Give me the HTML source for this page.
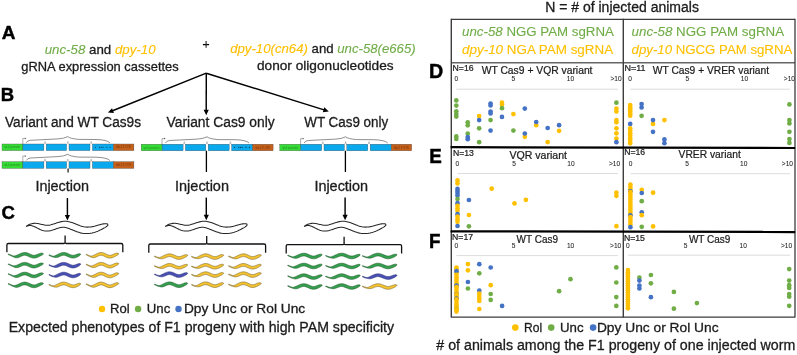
<!DOCTYPE html>
<html><head><meta charset="utf-8"><style>
html,body{margin:0;padding:0;background:#fff;}
svg{display:block;will-change:transform;filter:blur(0.3px);}
text{font-family:"Liberation Sans", sans-serif;}
</style></head><body>
<svg width="797" height="355" viewBox="0 0 797 355">
<rect x="0" y="0" width="797" height="355" fill="#fff"/>
<text transform="translate(1.75,38.68) scale(0.1902,0.1927)" font-size="100" font-weight="bold" fill="#000" stroke="#000" stroke-width="2.298" stroke-linejoin="round">A</text>
<text x="44.7" y="53.6" font-size="13.2" font-weight="normal" fill="#1c1c1c" stroke="#1c1c1c" stroke-width="0.3" text-anchor="start" textLength="110.9" lengthAdjust="spacingAndGlyphs"><tspan fill="#70ad47" stroke="#70ad47" stroke-width="0.1" font-style="italic">unc-58</tspan><tspan> and </tspan><tspan fill="#ffc000" stroke="#ffc000" stroke-width="0.1" font-style="italic">dpy-10</tspan></text>
<text x="21.3" y="70.7" font-size="13" font-weight="normal" fill="#1c1c1c" stroke="#1c1c1c" stroke-width="0.3" text-anchor="start" textLength="157.4" lengthAdjust="spacingAndGlyphs"><tspan>gRNA expression cassettes</tspan></text>
<line x1="202.90" y1="44.60" x2="209.10" y2="44.60" stroke="#000" stroke-width="1.3"/>
<line x1="206.10" y1="40.90" x2="206.10" y2="47.80" stroke="#333" stroke-width="1.2"/>
<text x="230.2" y="52.9" font-size="13.2" font-weight="normal" fill="#1c1c1c" stroke="#1c1c1c" stroke-width="0.3" text-anchor="start" textLength="185.5" lengthAdjust="spacingAndGlyphs"><tspan fill="#ffc000" stroke="#ffc000" stroke-width="0.1" font-style="italic">dpy-10(cn64)</tspan><tspan> and </tspan><tspan fill="#70ad47" stroke="#70ad47" stroke-width="0.1" font-style="italic">unc-58(e665)</tspan></text>
<text x="257.0" y="70.3" font-size="13" font-weight="normal" fill="#1c1c1c" stroke="#1c1c1c" stroke-width="0.3" text-anchor="start" textLength="136.6" lengthAdjust="spacingAndGlyphs"><tspan>donor oligonucleotides</tspan></text>
<line x1="206.30" y1="73.20" x2="112.54" y2="110.74" stroke="#000" stroke-width="1.45"/>
<polygon points="107.90,112.60 112.04,108.14 113.97,112.97" fill="#000"/>
<line x1="206.30" y1="73.20" x2="206.21" y2="110.20" stroke="#000" stroke-width="1.45"/>
<polygon points="206.20,115.20 203.61,109.69 208.81,109.71" fill="#000"/>
<line x1="206.30" y1="73.20" x2="324.03" y2="109.91" stroke="#000" stroke-width="1.45"/>
<polygon points="328.80,111.40 322.78,112.24 324.32,107.28" fill="#000"/>
<text transform="translate(0.78,100.58) scale(0.1846,0.1826)" font-size="100" font-weight="bold" fill="#000" stroke="#000" stroke-width="2.397" stroke-linejoin="round">B</text>
<text x="5.0" y="126.9" font-size="14" font-weight="normal" fill="#1c1c1c" stroke="#1c1c1c" stroke-width="0.3" text-anchor="start" textLength="136.0" lengthAdjust="spacingAndGlyphs"><tspan>Variant and WT Cas9s</tspan></text>
<text x="166.6" y="127.0" font-size="14" font-weight="normal" fill="#1c1c1c" stroke="#1c1c1c" stroke-width="0.3" text-anchor="start" textLength="108.1" lengthAdjust="spacingAndGlyphs"><tspan>Variant Cas9 only</tspan></text>
<text x="304.3" y="127.0" font-size="14" font-weight="normal" fill="#1c1c1c" stroke="#1c1c1c" stroke-width="0.3" text-anchor="start" textLength="83.9" lengthAdjust="spacingAndGlyphs"><tspan>WT Cas9 only</tspan></text>
<rect x="2.00" y="144.00" width="20.90" height="6.60" fill="#35dc35" stroke="#4a4a4a" stroke-width="0.35"/>
<rect x="22.90" y="144.00" width="21.00" height="6.60" fill="#0aa8ec" stroke="#4a4a4a" stroke-width="0.35"/>
<rect x="46.20" y="144.00" width="20.40" height="6.60" fill="#0aa8ec" stroke="#4a4a4a" stroke-width="0.35"/>
<rect x="69.00" y="144.00" width="21.00" height="6.60" fill="#0aa8ec" stroke="#4a4a4a" stroke-width="0.35"/>
<rect x="92.40" y="144.00" width="21.10" height="6.60" fill="#0aa8ec" stroke="#4a4a4a" stroke-width="0.35"/>
<rect x="113.50" y="144.00" width="20.40" height="6.60" fill="#c5601a" stroke="#4a4a4a" stroke-width="0.35"/>
<text x="4.3" y="148.4" font-size="3.2" fill="#174a17" opacity="0.6" textLength="16" lengthAdjust="spacingAndGlyphs">rpl-4 promoter</text>
<text x="116.3" y="148.4" font-size="3.2" fill="#3a1606" opacity="0.6" textLength="14.5" lengthAdjust="spacingAndGlyphs">tbb-2 3' UTR</text>
<circle cx="95.40" cy="147.20" r="0.55" fill="#10304a"/>
<circle cx="99.50" cy="147.20" r="0.55" fill="#10304a"/>
<circle cx="101.20" cy="147.20" r="0.55" fill="#10304a"/>
<circle cx="103.00" cy="147.20" r="0.55" fill="#10304a"/>
<circle cx="106.80" cy="147.20" r="0.55" fill="#10304a"/>
<circle cx="110.20" cy="147.20" r="0.55" fill="#10304a"/>
<path d="M44.45,143.80 L45.05,141.40 L45.65,143.80" fill="none" stroke="#888" stroke-width="0.5"/>
<path d="M67.20,143.80 L67.80,141.40 L68.40,143.80" fill="none" stroke="#888" stroke-width="0.5"/>
<path d="M90.60,143.80 L91.20,141.40 L91.80,143.80" fill="none" stroke="#888" stroke-width="0.5"/>
<path d="M22.8,144.0 L22.8,138.4 L24.8,138.4" fill="none" stroke="#777" stroke-width="0.6"/>
<polygon points="26.4,138.4 24.8,137.5 24.8,139.3" fill="#555"/>
<path d="M26.2,142.8 Q27.5,140.5 30.4,140.3 L58.0,138.9 Q64.0,138.6 67.8,136.6 Q70.0,138.6 78.8,139.4 L96.0,139.5 Q107.0,139.8 109.9,142.8" fill="none" stroke="#6a6a6a" stroke-width="0.75"/>
<rect x="2.00" y="161.70" width="20.90" height="6.70" fill="#35dc35" stroke="#4a4a4a" stroke-width="0.35"/>
<rect x="22.90" y="161.70" width="21.00" height="6.70" fill="#0aa8ec" stroke="#4a4a4a" stroke-width="0.35"/>
<rect x="46.20" y="161.70" width="20.40" height="6.70" fill="#0aa8ec" stroke="#4a4a4a" stroke-width="0.35"/>
<rect x="69.00" y="161.70" width="21.00" height="6.70" fill="#0aa8ec" stroke="#4a4a4a" stroke-width="0.35"/>
<rect x="92.40" y="161.70" width="21.10" height="6.70" fill="#0aa8ec" stroke="#4a4a4a" stroke-width="0.35"/>
<rect x="113.50" y="161.70" width="20.40" height="6.70" fill="#c5601a" stroke="#4a4a4a" stroke-width="0.35"/>
<text x="4.3" y="166.1" font-size="3.2" fill="#174a17" opacity="0.6" textLength="16" lengthAdjust="spacingAndGlyphs">rpl-4 promoter</text>
<text x="116.3" y="166.1" font-size="3.2" fill="#3a1606" opacity="0.6" textLength="14.5" lengthAdjust="spacingAndGlyphs">tbb-2 3' UTR</text>
<path d="M44.45,161.50 L45.05,159.10 L45.65,161.50" fill="none" stroke="#888" stroke-width="0.5"/>
<path d="M67.20,161.50 L67.80,159.10 L68.40,161.50" fill="none" stroke="#888" stroke-width="0.5"/>
<path d="M90.60,161.50 L91.20,159.10 L91.80,161.50" fill="none" stroke="#888" stroke-width="0.5"/>
<path d="M22.8,161.7 L22.8,156.1 L24.8,156.1" fill="none" stroke="#777" stroke-width="0.6"/>
<polygon points="26.4,156.1 24.8,155.2 24.8,157.0" fill="#555"/>
<path d="M26.2,160.5 Q27.5,158.2 30.4,158.0 L58.0,156.6 Q64.0,156.3 67.8,154.3 Q70.0,156.3 78.8,157.1 L96.0,157.2 Q107.0,157.5 109.9,160.5" fill="none" stroke="#6a6a6a" stroke-width="0.75"/>
<rect x="141.20" y="144.20" width="20.90" height="6.60" fill="#35dc35" stroke="#4a4a4a" stroke-width="0.35"/>
<rect x="162.10" y="144.20" width="21.00" height="6.60" fill="#0aa8ec" stroke="#4a4a4a" stroke-width="0.35"/>
<rect x="185.40" y="144.20" width="20.40" height="6.60" fill="#0aa8ec" stroke="#4a4a4a" stroke-width="0.35"/>
<rect x="208.20" y="144.20" width="21.00" height="6.60" fill="#0aa8ec" stroke="#4a4a4a" stroke-width="0.35"/>
<rect x="231.60" y="144.20" width="21.10" height="6.60" fill="#0aa8ec" stroke="#4a4a4a" stroke-width="0.35"/>
<rect x="252.70" y="144.20" width="20.40" height="6.60" fill="#c5601a" stroke="#4a4a4a" stroke-width="0.35"/>
<text x="143.5" y="148.6" font-size="3.2" fill="#174a17" opacity="0.6" textLength="16" lengthAdjust="spacingAndGlyphs">rpl-4 promoter</text>
<text x="255.5" y="148.6" font-size="3.2" fill="#3a1606" opacity="0.6" textLength="14.5" lengthAdjust="spacingAndGlyphs">tbb-2 3' UTR</text>
<circle cx="234.60" cy="147.40" r="0.55" fill="#10304a"/>
<circle cx="238.70" cy="147.40" r="0.55" fill="#10304a"/>
<circle cx="240.40" cy="147.40" r="0.55" fill="#10304a"/>
<circle cx="242.20" cy="147.40" r="0.55" fill="#10304a"/>
<circle cx="246.00" cy="147.40" r="0.55" fill="#10304a"/>
<circle cx="249.40" cy="147.40" r="0.55" fill="#10304a"/>
<path d="M183.65,144.00 L184.25,141.60 L184.85,144.00" fill="none" stroke="#888" stroke-width="0.5"/>
<path d="M206.40,144.00 L207.00,141.60 L207.60,144.00" fill="none" stroke="#888" stroke-width="0.5"/>
<path d="M229.80,144.00 L230.40,141.60 L231.00,144.00" fill="none" stroke="#888" stroke-width="0.5"/>
<path d="M162.0,144.2 L162.0,138.6 L164.0,138.6" fill="none" stroke="#777" stroke-width="0.6"/>
<polygon points="165.6,138.6 164.0,137.7 164.0,139.5" fill="#555"/>
<path d="M165.4,143.0 Q166.7,140.7 169.6,140.5 L197.2,139.1 Q203.2,138.8 207.0,136.8 Q209.2,138.8 218.0,139.6 L235.2,139.7 Q246.2,140.0 249.1,143.0" fill="none" stroke="#6a6a6a" stroke-width="0.75"/>
<rect x="279.80" y="144.20" width="20.90" height="6.60" fill="#35dc35" stroke="#4a4a4a" stroke-width="0.35"/>
<rect x="300.70" y="144.20" width="21.00" height="6.60" fill="#0aa8ec" stroke="#4a4a4a" stroke-width="0.35"/>
<rect x="324.00" y="144.20" width="20.40" height="6.60" fill="#0aa8ec" stroke="#4a4a4a" stroke-width="0.35"/>
<rect x="346.80" y="144.20" width="21.00" height="6.60" fill="#0aa8ec" stroke="#4a4a4a" stroke-width="0.35"/>
<rect x="370.20" y="144.20" width="21.10" height="6.60" fill="#0aa8ec" stroke="#4a4a4a" stroke-width="0.35"/>
<rect x="391.30" y="144.20" width="20.40" height="6.60" fill="#c5601a" stroke="#4a4a4a" stroke-width="0.35"/>
<text x="282.1" y="148.6" font-size="3.2" fill="#174a17" opacity="0.6" textLength="16" lengthAdjust="spacingAndGlyphs">rpl-4 promoter</text>
<text x="394.1" y="148.6" font-size="3.2" fill="#3a1606" opacity="0.6" textLength="14.5" lengthAdjust="spacingAndGlyphs">tbb-2 3' UTR</text>
<path d="M322.25,144.00 L322.85,141.60 L323.45,144.00" fill="none" stroke="#888" stroke-width="0.5"/>
<path d="M345.00,144.00 L345.60,141.60 L346.20,144.00" fill="none" stroke="#888" stroke-width="0.5"/>
<path d="M368.40,144.00 L369.00,141.60 L369.60,144.00" fill="none" stroke="#888" stroke-width="0.5"/>
<path d="M300.6,144.2 L300.6,138.6 L302.6,138.6" fill="none" stroke="#777" stroke-width="0.6"/>
<polygon points="304.2,138.6 302.6,137.7 302.6,139.5" fill="#555"/>
<path d="M304.0,143.0 Q305.3,140.7 308.2,140.5 L335.8,139.1 Q341.8,138.8 345.6,136.8 Q347.8,138.8 356.6,139.6 L373.8,139.7 Q384.8,140.0 387.7,143.0" fill="none" stroke="#6a6a6a" stroke-width="0.75"/>
<line x1="68.10" y1="168.60" x2="68.10" y2="172.60" stroke="#222" stroke-width="1.3"/>
<line x1="206.40" y1="150.70" x2="206.40" y2="172.00" stroke="#000" stroke-width="1.3"/>
<line x1="345.40" y1="150.70" x2="345.40" y2="172.00" stroke="#000" stroke-width="1.3"/>
<text x="35.4" y="190.8" font-size="14.2" font-weight="normal" fill="#1c1c1c" stroke="#1c1c1c" stroke-width="0.3" text-anchor="start" textLength="53.6" lengthAdjust="spacingAndGlyphs"><tspan>Injection</tspan></text>
<text x="175.0" y="190.8" font-size="14.2" font-weight="normal" fill="#1c1c1c" stroke="#1c1c1c" stroke-width="0.3" text-anchor="start" textLength="54.0" lengthAdjust="spacingAndGlyphs"><tspan>Injection</tspan></text>
<text x="314.4" y="190.8" font-size="14.2" font-weight="normal" fill="#1c1c1c" stroke="#1c1c1c" stroke-width="0.3" text-anchor="start" textLength="53.7" lengthAdjust="spacingAndGlyphs"><tspan>Injection</tspan></text>
<line x1="67.40" y1="198.00" x2="67.40" y2="215.60" stroke="#000" stroke-width="1.45"/>
<polygon points="67.40,220.60 64.80,215.10 70.00,215.10" fill="#000"/>
<line x1="206.30" y1="197.60" x2="206.30" y2="215.20" stroke="#000" stroke-width="1.45"/>
<polygon points="206.30,220.20 203.70,214.70 208.90,214.70" fill="#000"/>
<line x1="345.10" y1="197.60" x2="345.10" y2="215.20" stroke="#000" stroke-width="1.45"/>
<polygon points="345.10,220.20 342.50,214.70 347.70,214.70" fill="#000"/>
<text transform="translate(1.46,218.79) scale(0.1860,0.1929)" font-size="100" font-weight="bold" fill="#000" stroke="#000" stroke-width="2.322" stroke-linejoin="round">C</text>
<path d="M26.37,226.26 L27.22,225.62 L28.09,225.07 L28.98,224.61 L29.90,224.24 L30.85,223.94 L31.82,223.69 L32.81,223.51 L33.82,223.39 L34.85,223.34 L35.88,223.35 L36.90,223.43 L37.91,223.58 L38.90,223.77 L39.87,223.97 L40.82,224.18 L41.75,224.39 L42.63,224.59 L43.49,224.77 L44.29,224.95 L45.06,225.11 L45.78,225.23 L46.47,225.31 L47.15,225.34 L47.85,225.32 L48.59,225.25 L49.35,225.14 L50.15,224.98 L50.96,224.79 L51.81,224.55 L52.67,224.29 L53.56,224.01 L54.46,223.71 L55.38,223.40 L56.31,223.08 L57.26,222.76 L58.22,222.45 L59.20,222.15 L60.20,221.88 L61.22,221.64 L62.27,221.45 L63.35,221.31 L64.46,221.25 L65.57,221.26 L66.66,221.34 L67.74,221.50 L68.79,221.70 L69.82,221.95 L70.84,222.23 L71.83,222.53 L72.81,222.86 L73.76,223.20 L74.70,223.56 L75.61,223.92 L76.51,224.29 L77.39,224.64 L78.26,224.99 L79.12,225.32 L79.96,225.63 L80.79,225.91 L81.61,226.17 L82.41,226.40 L83.20,226.61 L83.96,226.77 L84.72,226.91 L85.46,227.01 L86.22,227.08 L86.98,227.11 L87.76,227.12 L88.55,227.10 L89.35,227.05 L90.17,226.98 L90.99,226.88 L91.81,226.76 L92.64,226.63 L93.48,226.47 L94.32,226.28 L95.16,226.08 L96.03,225.85 L96.91,225.60 L97.81,225.34 L98.72,225.08 L99.65,224.81 L100.59,224.55 L101.55,224.29 L102.52,224.06 L103.51,223.87 L104.51,223.73 L105.54,223.69 L106.61,223.84 L107.68,224.12 L107.92,225.08 L107.18,225.85 L106.44,226.54 L105.66,227.10 L104.86,227.60 L104.04,228.08 L103.20,228.54 L102.35,229.00 L101.48,229.45 L100.60,229.89 L99.70,230.32 L98.79,230.74 L97.87,231.14 L96.92,231.52 L95.96,231.87 L94.99,232.20 L94.02,232.49 L93.03,232.74 L92.05,232.97 L91.06,233.16 L90.07,233.33 L89.06,233.45 L88.04,233.54 L87.01,233.59 L85.97,233.60 L84.92,233.56 L83.85,233.46 L82.80,233.31 L81.76,233.12 L80.73,232.89 L79.72,232.62 L78.73,232.32 L77.75,232.00 L76.79,231.67 L75.84,231.32 L74.90,230.96 L73.97,230.59 L73.06,230.23 L72.16,229.86 L71.29,229.49 L70.44,229.14 L69.60,228.80 L68.79,228.48 L67.99,228.20 L67.22,227.95 L66.46,227.75 L65.73,227.58 L65.01,227.44 L64.32,227.35 L63.61,227.31 L62.88,227.30 L62.12,227.35 L61.34,227.44 L60.53,227.57 L59.70,227.75 L58.85,227.97 L57.99,228.22 L57.12,228.51 L56.23,228.82 L55.32,229.14 L54.39,229.47 L53.45,229.80 L52.48,230.11 L51.49,230.40 L50.48,230.65 L49.43,230.86 L48.36,231.01 L47.25,231.08 L46.12,231.08 L45.00,230.97 L43.92,230.79 L42.87,230.54 L41.87,230.22 L40.92,229.84 L40.00,229.43 L39.11,228.99 L38.25,228.56 L37.41,228.13 L36.60,227.73 L35.80,227.34 L35.01,226.94 L34.23,226.56 L33.45,226.22 L32.65,225.92 L31.84,225.68 L31.00,225.53 L30.13,225.48 L29.24,225.53 L28.33,225.68 L27.39,225.95 L26.43,226.34 Z" fill="#fff" stroke="#262626" stroke-width="1.05" stroke-linejoin="round"/>
<path d="M165.57,226.26 L166.42,225.62 L167.29,225.07 L168.18,224.61 L169.10,224.24 L170.05,223.94 L171.02,223.69 L172.01,223.51 L173.02,223.39 L174.05,223.34 L175.08,223.35 L176.10,223.43 L177.11,223.58 L178.10,223.77 L179.07,223.97 L180.02,224.18 L180.95,224.39 L181.83,224.59 L182.69,224.77 L183.49,224.95 L184.26,225.11 L184.98,225.23 L185.67,225.31 L186.35,225.34 L187.05,225.32 L187.79,225.25 L188.55,225.14 L189.35,224.98 L190.16,224.79 L191.01,224.55 L191.87,224.29 L192.76,224.01 L193.66,223.71 L194.58,223.40 L195.51,223.08 L196.46,222.76 L197.42,222.45 L198.40,222.15 L199.40,221.88 L200.42,221.64 L201.47,221.45 L202.55,221.31 L203.66,221.25 L204.77,221.26 L205.86,221.34 L206.94,221.50 L207.99,221.70 L209.02,221.95 L210.04,222.23 L211.03,222.53 L212.01,222.86 L212.96,223.20 L213.90,223.56 L214.81,223.92 L215.71,224.29 L216.59,224.64 L217.46,224.99 L218.32,225.32 L219.16,225.63 L219.99,225.91 L220.81,226.17 L221.61,226.40 L222.40,226.61 L223.16,226.77 L223.92,226.91 L224.66,227.01 L225.42,227.08 L226.18,227.11 L226.96,227.12 L227.75,227.10 L228.55,227.05 L229.37,226.98 L230.19,226.88 L231.01,226.76 L231.84,226.63 L232.68,226.47 L233.52,226.28 L234.36,226.08 L235.23,225.85 L236.11,225.60 L237.01,225.34 L237.92,225.08 L238.85,224.81 L239.79,224.55 L240.75,224.29 L241.72,224.06 L242.71,223.87 L243.71,223.73 L244.74,223.69 L245.81,223.84 L246.88,224.12 L247.12,225.08 L246.38,225.85 L245.64,226.54 L244.86,227.10 L244.06,227.60 L243.24,228.08 L242.40,228.54 L241.55,229.00 L240.68,229.45 L239.80,229.89 L238.90,230.32 L237.99,230.74 L237.07,231.14 L236.12,231.52 L235.16,231.87 L234.19,232.20 L233.22,232.49 L232.23,232.74 L231.25,232.97 L230.26,233.16 L229.27,233.33 L228.26,233.45 L227.24,233.54 L226.21,233.59 L225.17,233.60 L224.12,233.56 L223.05,233.46 L222.00,233.31 L220.96,233.12 L219.93,232.89 L218.92,232.62 L217.93,232.32 L216.95,232.00 L215.99,231.67 L215.04,231.32 L214.10,230.96 L213.17,230.59 L212.26,230.23 L211.36,229.86 L210.49,229.49 L209.64,229.14 L208.80,228.80 L207.99,228.48 L207.19,228.20 L206.42,227.95 L205.66,227.75 L204.93,227.58 L204.21,227.44 L203.52,227.35 L202.81,227.31 L202.08,227.30 L201.32,227.35 L200.54,227.44 L199.73,227.57 L198.90,227.75 L198.05,227.97 L197.19,228.22 L196.32,228.51 L195.43,228.82 L194.52,229.14 L193.59,229.47 L192.65,229.80 L191.68,230.11 L190.69,230.40 L189.68,230.65 L188.63,230.86 L187.56,231.01 L186.45,231.08 L185.32,231.08 L184.20,230.97 L183.12,230.79 L182.07,230.54 L181.07,230.22 L180.12,229.84 L179.20,229.43 L178.31,228.99 L177.45,228.56 L176.61,228.13 L175.80,227.73 L175.00,227.34 L174.21,226.94 L173.43,226.56 L172.65,226.22 L171.85,225.92 L171.04,225.68 L170.20,225.53 L169.33,225.48 L168.44,225.53 L167.53,225.68 L166.59,225.95 L165.63,226.34 Z" fill="#fff" stroke="#262626" stroke-width="1.05" stroke-linejoin="round"/>
<path d="M304.37,226.26 L305.22,225.62 L306.09,225.07 L306.98,224.61 L307.90,224.24 L308.85,223.94 L309.82,223.69 L310.81,223.51 L311.82,223.39 L312.85,223.34 L313.88,223.35 L314.90,223.43 L315.91,223.58 L316.90,223.77 L317.87,223.97 L318.82,224.18 L319.75,224.39 L320.63,224.59 L321.49,224.77 L322.29,224.95 L323.06,225.11 L323.78,225.23 L324.47,225.31 L325.15,225.34 L325.85,225.32 L326.59,225.25 L327.35,225.14 L328.15,224.98 L328.96,224.79 L329.81,224.55 L330.67,224.29 L331.56,224.01 L332.46,223.71 L333.38,223.40 L334.31,223.08 L335.26,222.76 L336.22,222.45 L337.20,222.15 L338.20,221.88 L339.22,221.64 L340.27,221.45 L341.35,221.31 L342.46,221.25 L343.57,221.26 L344.66,221.34 L345.74,221.50 L346.79,221.70 L347.82,221.95 L348.84,222.23 L349.83,222.53 L350.81,222.86 L351.76,223.20 L352.70,223.56 L353.61,223.92 L354.51,224.29 L355.39,224.64 L356.26,224.99 L357.12,225.32 L357.96,225.63 L358.79,225.91 L359.61,226.17 L360.41,226.40 L361.20,226.61 L361.96,226.77 L362.72,226.91 L363.46,227.01 L364.22,227.08 L364.98,227.11 L365.76,227.12 L366.55,227.10 L367.35,227.05 L368.17,226.98 L368.99,226.88 L369.81,226.76 L370.64,226.63 L371.48,226.47 L372.32,226.28 L373.16,226.08 L374.03,225.85 L374.91,225.60 L375.81,225.34 L376.72,225.08 L377.65,224.81 L378.59,224.55 L379.55,224.29 L380.52,224.06 L381.51,223.87 L382.51,223.73 L383.54,223.69 L384.61,223.84 L385.68,224.12 L385.92,225.08 L385.18,225.85 L384.44,226.54 L383.66,227.10 L382.86,227.60 L382.04,228.08 L381.20,228.54 L380.35,229.00 L379.48,229.45 L378.60,229.89 L377.70,230.32 L376.79,230.74 L375.87,231.14 L374.92,231.52 L373.96,231.87 L372.99,232.20 L372.02,232.49 L371.03,232.74 L370.05,232.97 L369.06,233.16 L368.07,233.33 L367.06,233.45 L366.04,233.54 L365.01,233.59 L363.97,233.60 L362.92,233.56 L361.85,233.46 L360.80,233.31 L359.76,233.12 L358.73,232.89 L357.72,232.62 L356.73,232.32 L355.75,232.00 L354.79,231.67 L353.84,231.32 L352.90,230.96 L351.97,230.59 L351.06,230.23 L350.16,229.86 L349.29,229.49 L348.44,229.14 L347.60,228.80 L346.79,228.48 L345.99,228.20 L345.22,227.95 L344.46,227.75 L343.73,227.58 L343.01,227.44 L342.32,227.35 L341.61,227.31 L340.88,227.30 L340.12,227.35 L339.34,227.44 L338.53,227.57 L337.70,227.75 L336.85,227.97 L335.99,228.22 L335.12,228.51 L334.23,228.82 L333.32,229.14 L332.39,229.47 L331.45,229.80 L330.48,230.11 L329.49,230.40 L328.48,230.65 L327.43,230.86 L326.36,231.01 L325.25,231.08 L324.12,231.08 L323.00,230.97 L321.92,230.79 L320.87,230.54 L319.87,230.22 L318.92,229.84 L318.00,229.43 L317.11,228.99 L316.25,228.56 L315.41,228.13 L314.60,227.73 L313.80,227.34 L313.01,226.94 L312.23,226.56 L311.45,226.22 L310.65,225.92 L309.84,225.68 L309.00,225.53 L308.13,225.48 L307.24,225.53 L306.33,225.68 L305.39,225.95 L304.43,226.34 Z" fill="#fff" stroke="#262626" stroke-width="1.05" stroke-linejoin="round"/>
<path d="M6.9,252.3 L6.9,245.0 Q6.9,243.5 8.4,243.5 L64.1,243.5 Q65.1,243.5 65.1,242.0 L65.1,235.6 M65.1,242.0 Q65.1,243.5 66.1,243.5 L121.3,243.5 Q122.8,243.5 122.8,245.0 L122.8,252.3" fill="none" stroke="#111" stroke-width="1.3"/>
<path d="M148.8,252.8 L148.8,245.5 Q148.8,244.0 150.3,244.0 L205.7,244.0 Q206.7,244.0 206.7,242.5 L206.7,236.1 M206.7,242.5 Q206.7,244.0 207.7,244.0 L264.1,244.0 Q265.6,244.0 265.6,245.5 L265.6,252.8" fill="none" stroke="#111" stroke-width="1.3"/>
<path d="M286.2,253.5 L286.2,246.2 Q286.2,244.7 287.7,244.7 L343.1,244.7 Q344.1,244.7 344.1,243.2 L344.1,236.8 M344.1,243.2 Q344.1,244.7 345.1,244.7 L400.1,244.7 Q401.6,244.7 401.6,246.2 L401.6,253.5" fill="none" stroke="#111" stroke-width="1.3"/>
<path d="M8.39,253.98 L9.14,254.25 L9.89,254.55 L10.63,254.87 L11.37,255.19 L12.10,255.49 L12.83,255.75 L13.54,255.93 L14.26,255.95 L14.93,255.84 L15.56,255.67 L16.16,255.49 L16.75,255.29 L17.36,255.04 L18.00,254.76 L18.68,254.45 L19.39,254.11 L20.12,253.76 L20.89,253.41 L21.69,253.09 L22.52,252.82 L23.38,252.63 L24.26,252.52 L25.15,252.52 L26.04,252.62 L26.90,252.81 L27.73,253.08 L28.53,253.39 L29.30,253.73 L30.04,254.08 L30.75,254.41 L31.43,254.71 L32.08,254.95 L32.70,255.14 L33.29,255.26 L33.86,255.31 L34.43,255.30 L35.01,255.22 L35.62,255.08 L36.26,254.87 L36.92,254.60 L37.63,254.29 L38.36,253.97 L39.13,253.66 L39.93,253.39 L40.77,253.18 L41.63,253.10 L42.48,253.20 L43.30,253.65 L43.30,254.15 L42.66,254.69 L42.06,255.03 L41.46,255.35 L40.83,255.67 L40.18,256.00 L39.49,256.37 L38.77,256.73 L38.01,257.09 L37.22,257.42 L36.40,257.70 L35.55,257.92 L34.67,258.05 L33.78,258.08 L32.89,258.01 L32.03,257.84 L31.18,257.60 L30.37,257.30 L29.60,256.96 L28.85,256.61 L28.13,256.27 L27.44,255.97 L26.79,255.71 L26.16,255.51 L25.56,255.37 L24.99,255.30 L24.42,255.30 L23.84,255.36 L23.25,255.49 L22.62,255.68 L21.96,255.94 L21.27,256.24 L20.55,256.57 L19.80,256.91 L19.02,257.24 L18.20,257.50 L17.35,257.69 L16.49,257.78 L15.62,257.73 L14.79,257.51 L14.01,257.19 L13.27,256.86 L12.52,256.55 L11.79,256.21 L11.06,255.85 L10.35,255.48 L9.63,255.13 L8.92,254.81 L8.21,254.55 Z" fill="#34a04e" stroke="#1d5529" stroke-width="0.55" stroke-linejoin="round"/>
<path d="M49.13,254.75 L49.79,255.05 L50.45,255.34 L51.10,255.61 L51.76,255.84 L52.40,256.02 L53.04,256.14 L53.66,256.18 L54.27,256.07 L54.84,255.84 L55.39,255.56 L55.93,255.30 L56.48,255.04 L57.06,254.75 L57.66,254.44 L58.30,254.13 L58.96,253.82 L59.65,253.50 L60.36,253.21 L61.10,252.94 L61.86,252.73 L62.64,252.59 L63.44,252.51 L64.24,252.53 L65.03,252.62 L65.81,252.78 L66.56,253.01 L67.30,253.28 L68.00,253.58 L68.68,253.89 L69.34,254.19 L69.97,254.48 L70.58,254.74 L71.17,254.96 L71.73,255.13 L72.26,255.24 L72.79,255.31 L73.30,255.32 L73.83,255.28 L74.36,255.18 L74.92,255.04 L75.51,254.84 L76.12,254.61 L76.77,254.37 L77.45,254.11 L78.16,253.88 L78.91,253.72 L79.69,253.67 L80.53,253.93 L80.67,254.41 L80.19,255.09 L79.66,255.55 L79.09,255.96 L78.48,256.33 L77.85,256.69 L77.18,257.04 L76.48,257.35 L75.74,257.62 L74.99,257.84 L74.21,257.99 L73.41,258.07 L72.61,258.07 L71.82,257.98 L71.04,257.82 L70.28,257.60 L69.55,257.34 L68.84,257.04 L68.16,256.73 L67.50,256.43 L66.87,256.14 L66.25,255.88 L65.67,255.66 L65.11,255.49 L64.57,255.37 L64.05,255.30 L63.53,255.29 L63.01,255.33 L62.48,255.43 L61.92,255.57 L61.34,255.77 L60.73,256.01 L60.10,256.29 L59.45,256.58 L58.77,256.88 L58.06,257.15 L57.32,257.37 L56.56,257.53 L55.78,257.59 L55.01,257.50 L54.26,257.33 L53.56,257.14 L52.86,256.98 L52.18,256.77 L51.51,256.52 L50.85,256.23 L50.19,255.92 L49.53,255.60 L48.87,255.29 Z" fill="#34a04e" stroke="#1d5529" stroke-width="0.55" stroke-linejoin="round"/>
<path d="M86.31,254.22 L87.01,254.52 L87.69,254.84 L88.38,255.17 L89.06,255.47 L89.73,255.73 L90.40,255.94 L91.05,256.07 L91.69,256.03 L92.29,255.86 L92.85,255.64 L93.39,255.41 L93.94,255.18 L94.51,254.90 L95.11,254.58 L95.75,254.26 L96.43,253.91 L97.13,253.57 L97.86,253.24 L98.63,252.95 L99.43,252.71 L100.25,252.56 L101.09,252.51 L101.94,252.56 L102.76,252.70 L103.57,252.92 L104.34,253.21 L105.07,253.53 L105.78,253.88 L106.46,254.21 L107.11,254.53 L107.72,254.80 L108.31,255.02 L108.86,255.18 L109.39,255.28 L109.90,255.31 L110.41,255.29 L110.94,255.20 L111.50,255.05 L112.09,254.83 L112.71,254.57 L113.36,254.26 L114.05,253.95 L114.77,253.64 L115.53,253.37 L116.31,253.17 L117.12,253.10 L117.93,253.20 L118.70,253.65 L118.70,254.15 L118.11,254.69 L117.57,255.02 L117.03,255.34 L116.46,255.64 L115.86,255.96 L115.23,256.32 L114.56,256.68 L113.86,257.03 L113.13,257.36 L112.36,257.65 L111.56,257.88 L110.74,258.03 L109.90,258.09 L109.06,258.04 L108.23,257.90 L107.43,257.67 L106.66,257.39 L105.92,257.06 L105.21,256.72 L104.54,256.38 L103.89,256.07 L103.27,255.80 L102.69,255.58 L102.14,255.42 L101.61,255.32 L101.10,255.29 L100.58,255.32 L100.06,255.41 L99.50,255.56 L98.91,255.78 L98.29,256.04 L97.64,256.35 L96.96,256.68 L96.25,257.01 L95.50,257.30 L94.71,257.52 L93.91,257.67 L93.09,257.68 L92.29,257.54 L91.54,257.29 L90.83,257.01 L90.13,256.75 L89.44,256.45 L88.76,256.12 L88.08,255.76 L87.41,255.41 L86.75,255.08 L86.09,254.78 Z" fill="#f6c331" stroke="#6e6028" stroke-width="0.55" stroke-linejoin="round"/>
<path d="M8.39,263.88 L9.14,264.15 L9.89,264.45 L10.63,264.77 L11.37,265.09 L12.10,265.39 L12.83,265.65 L13.54,265.83 L14.26,265.85 L14.93,265.74 L15.56,265.57 L16.16,265.39 L16.75,265.19 L17.36,264.94 L18.00,264.66 L18.68,264.35 L19.39,264.01 L20.12,263.66 L20.89,263.31 L21.69,262.99 L22.52,262.72 L23.38,262.53 L24.26,262.42 L25.15,262.42 L26.04,262.52 L26.90,262.71 L27.73,262.98 L28.53,263.29 L29.30,263.63 L30.04,263.98 L30.75,264.31 L31.43,264.61 L32.08,264.85 L32.70,265.04 L33.29,265.16 L33.86,265.21 L34.43,265.20 L35.01,265.12 L35.62,264.98 L36.26,264.77 L36.92,264.50 L37.63,264.19 L38.36,263.87 L39.13,263.56 L39.93,263.29 L40.77,263.08 L41.63,263.00 L42.48,263.10 L43.30,263.55 L43.30,264.05 L42.66,264.59 L42.06,264.93 L41.46,265.25 L40.83,265.57 L40.18,265.90 L39.49,266.27 L38.77,266.63 L38.01,266.99 L37.22,267.32 L36.40,267.60 L35.55,267.82 L34.67,267.95 L33.78,267.98 L32.89,267.91 L32.03,267.74 L31.18,267.50 L30.37,267.20 L29.60,266.86 L28.85,266.51 L28.13,266.17 L27.44,265.87 L26.79,265.61 L26.16,265.41 L25.56,265.27 L24.99,265.20 L24.42,265.20 L23.84,265.26 L23.25,265.39 L22.62,265.58 L21.96,265.84 L21.27,266.14 L20.55,266.47 L19.80,266.81 L19.02,267.14 L18.20,267.40 L17.35,267.59 L16.49,267.68 L15.62,267.63 L14.79,267.41 L14.01,267.09 L13.27,266.76 L12.52,266.45 L11.79,266.11 L11.06,265.75 L10.35,265.38 L9.63,265.03 L8.92,264.71 L8.21,264.45 Z" fill="#34a04e" stroke="#1d5529" stroke-width="0.55" stroke-linejoin="round"/>
<path d="M49.13,264.65 L49.79,264.95 L50.45,265.24 L51.10,265.51 L51.76,265.74 L52.40,265.92 L53.04,266.04 L53.66,266.08 L54.27,265.97 L54.84,265.74 L55.39,265.46 L55.93,265.20 L56.48,264.94 L57.06,264.65 L57.66,264.34 L58.30,264.03 L58.96,263.72 L59.65,263.40 L60.36,263.11 L61.10,262.84 L61.86,262.63 L62.64,262.49 L63.44,262.41 L64.24,262.43 L65.03,262.52 L65.81,262.68 L66.56,262.91 L67.30,263.18 L68.00,263.48 L68.68,263.79 L69.34,264.09 L69.97,264.38 L70.58,264.64 L71.17,264.86 L71.73,265.03 L72.26,265.14 L72.79,265.21 L73.30,265.22 L73.83,265.18 L74.36,265.08 L74.92,264.94 L75.51,264.74 L76.12,264.51 L76.77,264.27 L77.45,264.01 L78.16,263.78 L78.91,263.62 L79.69,263.57 L80.53,263.83 L80.67,264.31 L80.19,264.99 L79.66,265.45 L79.09,265.86 L78.48,266.23 L77.85,266.59 L77.18,266.94 L76.48,267.25 L75.74,267.52 L74.99,267.74 L74.21,267.89 L73.41,267.97 L72.61,267.97 L71.82,267.88 L71.04,267.72 L70.28,267.50 L69.55,267.24 L68.84,266.94 L68.16,266.63 L67.50,266.33 L66.87,266.04 L66.25,265.78 L65.67,265.56 L65.11,265.39 L64.57,265.27 L64.05,265.20 L63.53,265.19 L63.01,265.23 L62.48,265.33 L61.92,265.47 L61.34,265.67 L60.73,265.91 L60.10,266.19 L59.45,266.48 L58.77,266.78 L58.06,267.05 L57.32,267.27 L56.56,267.43 L55.78,267.49 L55.01,267.40 L54.26,267.23 L53.56,267.04 L52.86,266.88 L52.18,266.67 L51.51,266.42 L50.85,266.13 L50.19,265.82 L49.53,265.50 L48.87,265.19 Z" fill="#4a50b6" stroke="#262c6e" stroke-width="0.55" stroke-linejoin="round"/>
<path d="M86.31,264.12 L87.01,264.42 L87.69,264.74 L88.38,265.07 L89.06,265.37 L89.73,265.63 L90.40,265.84 L91.05,265.97 L91.69,265.93 L92.29,265.76 L92.85,265.54 L93.39,265.31 L93.94,265.08 L94.51,264.80 L95.11,264.48 L95.75,264.16 L96.43,263.81 L97.13,263.47 L97.86,263.14 L98.63,262.85 L99.43,262.61 L100.25,262.46 L101.09,262.41 L101.94,262.46 L102.76,262.60 L103.57,262.82 L104.34,263.11 L105.07,263.43 L105.78,263.78 L106.46,264.11 L107.11,264.43 L107.72,264.70 L108.31,264.92 L108.86,265.08 L109.39,265.18 L109.90,265.21 L110.41,265.19 L110.94,265.10 L111.50,264.95 L112.09,264.73 L112.71,264.47 L113.36,264.16 L114.05,263.85 L114.77,263.54 L115.53,263.27 L116.31,263.07 L117.12,263.00 L117.93,263.10 L118.70,263.55 L118.70,264.05 L118.11,264.59 L117.57,264.92 L117.03,265.24 L116.46,265.54 L115.86,265.86 L115.23,266.22 L114.56,266.58 L113.86,266.93 L113.13,267.26 L112.36,267.55 L111.56,267.78 L110.74,267.93 L109.90,267.99 L109.06,267.94 L108.23,267.80 L107.43,267.57 L106.66,267.29 L105.92,266.96 L105.21,266.62 L104.54,266.28 L103.89,265.97 L103.27,265.70 L102.69,265.48 L102.14,265.32 L101.61,265.22 L101.10,265.19 L100.58,265.22 L100.06,265.31 L99.50,265.46 L98.91,265.68 L98.29,265.94 L97.64,266.25 L96.96,266.58 L96.25,266.91 L95.50,267.20 L94.71,267.42 L93.91,267.57 L93.09,267.58 L92.29,267.44 L91.54,267.19 L90.83,266.91 L90.13,266.65 L89.44,266.35 L88.76,266.02 L88.08,265.66 L87.41,265.31 L86.75,264.98 L86.09,264.68 Z" fill="#f6c331" stroke="#6e6028" stroke-width="0.55" stroke-linejoin="round"/>
<path d="M8.39,273.68 L9.14,273.95 L9.89,274.25 L10.63,274.57 L11.37,274.89 L12.10,275.19 L12.83,275.45 L13.54,275.63 L14.26,275.65 L14.93,275.54 L15.56,275.37 L16.16,275.19 L16.75,274.99 L17.36,274.74 L18.00,274.46 L18.68,274.15 L19.39,273.81 L20.12,273.46 L20.89,273.11 L21.69,272.79 L22.52,272.52 L23.38,272.33 L24.26,272.22 L25.15,272.22 L26.04,272.32 L26.90,272.51 L27.73,272.78 L28.53,273.09 L29.30,273.43 L30.04,273.78 L30.75,274.11 L31.43,274.41 L32.08,274.65 L32.70,274.84 L33.29,274.96 L33.86,275.01 L34.43,275.00 L35.01,274.92 L35.62,274.78 L36.26,274.57 L36.92,274.30 L37.63,273.99 L38.36,273.67 L39.13,273.36 L39.93,273.09 L40.77,272.88 L41.63,272.80 L42.48,272.90 L43.30,273.35 L43.30,273.85 L42.66,274.39 L42.06,274.73 L41.46,275.05 L40.83,275.37 L40.18,275.70 L39.49,276.07 L38.77,276.43 L38.01,276.79 L37.22,277.12 L36.40,277.40 L35.55,277.62 L34.67,277.75 L33.78,277.78 L32.89,277.71 L32.03,277.54 L31.18,277.30 L30.37,277.00 L29.60,276.66 L28.85,276.31 L28.13,275.97 L27.44,275.67 L26.79,275.41 L26.16,275.21 L25.56,275.07 L24.99,275.00 L24.42,275.00 L23.84,275.06 L23.25,275.19 L22.62,275.38 L21.96,275.64 L21.27,275.94 L20.55,276.27 L19.80,276.61 L19.02,276.94 L18.20,277.20 L17.35,277.39 L16.49,277.48 L15.62,277.43 L14.79,277.21 L14.01,276.89 L13.27,276.56 L12.52,276.25 L11.79,275.91 L11.06,275.55 L10.35,275.18 L9.63,274.83 L8.92,274.51 L8.21,274.25 Z" fill="#34a04e" stroke="#1d5529" stroke-width="0.55" stroke-linejoin="round"/>
<path d="M49.13,274.45 L49.79,274.75 L50.45,275.04 L51.10,275.31 L51.76,275.54 L52.40,275.72 L53.04,275.84 L53.66,275.88 L54.27,275.77 L54.84,275.54 L55.39,275.26 L55.93,275.00 L56.48,274.74 L57.06,274.45 L57.66,274.14 L58.30,273.83 L58.96,273.52 L59.65,273.20 L60.36,272.91 L61.10,272.64 L61.86,272.43 L62.64,272.29 L63.44,272.21 L64.24,272.23 L65.03,272.32 L65.81,272.48 L66.56,272.71 L67.30,272.98 L68.00,273.28 L68.68,273.59 L69.34,273.89 L69.97,274.18 L70.58,274.44 L71.17,274.66 L71.73,274.83 L72.26,274.94 L72.79,275.01 L73.30,275.02 L73.83,274.98 L74.36,274.88 L74.92,274.74 L75.51,274.54 L76.12,274.31 L76.77,274.07 L77.45,273.81 L78.16,273.58 L78.91,273.42 L79.69,273.37 L80.53,273.63 L80.67,274.11 L80.19,274.79 L79.66,275.25 L79.09,275.66 L78.48,276.03 L77.85,276.39 L77.18,276.74 L76.48,277.05 L75.74,277.32 L74.99,277.54 L74.21,277.69 L73.41,277.77 L72.61,277.77 L71.82,277.68 L71.04,277.52 L70.28,277.30 L69.55,277.04 L68.84,276.74 L68.16,276.43 L67.50,276.13 L66.87,275.84 L66.25,275.58 L65.67,275.36 L65.11,275.19 L64.57,275.07 L64.05,275.00 L63.53,274.99 L63.01,275.03 L62.48,275.13 L61.92,275.27 L61.34,275.47 L60.73,275.71 L60.10,275.99 L59.45,276.28 L58.77,276.58 L58.06,276.85 L57.32,277.07 L56.56,277.23 L55.78,277.29 L55.01,277.20 L54.26,277.03 L53.56,276.84 L52.86,276.68 L52.18,276.47 L51.51,276.22 L50.85,275.93 L50.19,275.62 L49.53,275.30 L48.87,274.99 Z" fill="#4a50b6" stroke="#262c6e" stroke-width="0.55" stroke-linejoin="round"/>
<path d="M86.31,273.92 L87.01,274.22 L87.69,274.54 L88.38,274.87 L89.06,275.17 L89.73,275.43 L90.40,275.64 L91.05,275.77 L91.69,275.73 L92.29,275.56 L92.85,275.34 L93.39,275.11 L93.94,274.88 L94.51,274.60 L95.11,274.28 L95.75,273.96 L96.43,273.61 L97.13,273.27 L97.86,272.94 L98.63,272.65 L99.43,272.41 L100.25,272.26 L101.09,272.21 L101.94,272.26 L102.76,272.40 L103.57,272.62 L104.34,272.91 L105.07,273.23 L105.78,273.58 L106.46,273.91 L107.11,274.23 L107.72,274.50 L108.31,274.72 L108.86,274.88 L109.39,274.98 L109.90,275.01 L110.41,274.99 L110.94,274.90 L111.50,274.75 L112.09,274.53 L112.71,274.27 L113.36,273.96 L114.05,273.65 L114.77,273.34 L115.53,273.07 L116.31,272.87 L117.12,272.80 L117.93,272.90 L118.70,273.35 L118.70,273.85 L118.11,274.39 L117.57,274.72 L117.03,275.04 L116.46,275.34 L115.86,275.66 L115.23,276.02 L114.56,276.38 L113.86,276.73 L113.13,277.06 L112.36,277.35 L111.56,277.58 L110.74,277.73 L109.90,277.79 L109.06,277.74 L108.23,277.60 L107.43,277.37 L106.66,277.09 L105.92,276.76 L105.21,276.42 L104.54,276.08 L103.89,275.77 L103.27,275.50 L102.69,275.28 L102.14,275.12 L101.61,275.02 L101.10,274.99 L100.58,275.02 L100.06,275.11 L99.50,275.26 L98.91,275.48 L98.29,275.74 L97.64,276.05 L96.96,276.38 L96.25,276.71 L95.50,277.00 L94.71,277.22 L93.91,277.37 L93.09,277.38 L92.29,277.24 L91.54,276.99 L90.83,276.71 L90.13,276.45 L89.44,276.15 L88.76,275.82 L88.08,275.46 L87.41,275.11 L86.75,274.78 L86.09,274.48 Z" fill="#f6c331" stroke="#6e6028" stroke-width="0.55" stroke-linejoin="round"/>
<path d="M8.39,283.58 L9.14,283.85 L9.89,284.15 L10.63,284.47 L11.37,284.79 L12.10,285.09 L12.83,285.35 L13.54,285.53 L14.26,285.55 L14.93,285.44 L15.56,285.27 L16.16,285.09 L16.75,284.89 L17.36,284.64 L18.00,284.36 L18.68,284.05 L19.39,283.71 L20.12,283.36 L20.89,283.01 L21.69,282.69 L22.52,282.42 L23.38,282.23 L24.26,282.12 L25.15,282.12 L26.04,282.22 L26.90,282.41 L27.73,282.68 L28.53,282.99 L29.30,283.33 L30.04,283.68 L30.75,284.01 L31.43,284.31 L32.08,284.55 L32.70,284.74 L33.29,284.86 L33.86,284.91 L34.43,284.90 L35.01,284.82 L35.62,284.68 L36.26,284.47 L36.92,284.20 L37.63,283.89 L38.36,283.57 L39.13,283.26 L39.93,282.99 L40.77,282.78 L41.63,282.70 L42.48,282.80 L43.30,283.25 L43.30,283.75 L42.66,284.29 L42.06,284.63 L41.46,284.95 L40.83,285.27 L40.18,285.60 L39.49,285.97 L38.77,286.33 L38.01,286.69 L37.22,287.02 L36.40,287.30 L35.55,287.52 L34.67,287.65 L33.78,287.68 L32.89,287.61 L32.03,287.44 L31.18,287.20 L30.37,286.90 L29.60,286.56 L28.85,286.21 L28.13,285.87 L27.44,285.57 L26.79,285.31 L26.16,285.11 L25.56,284.97 L24.99,284.90 L24.42,284.90 L23.84,284.96 L23.25,285.09 L22.62,285.28 L21.96,285.54 L21.27,285.84 L20.55,286.17 L19.80,286.51 L19.02,286.84 L18.20,287.10 L17.35,287.29 L16.49,287.38 L15.62,287.33 L14.79,287.11 L14.01,286.79 L13.27,286.46 L12.52,286.15 L11.79,285.81 L11.06,285.45 L10.35,285.08 L9.63,284.73 L8.92,284.41 L8.21,284.15 Z" fill="#34a04e" stroke="#1d5529" stroke-width="0.55" stroke-linejoin="round"/>
<path d="M49.13,284.35 L49.79,284.65 L50.45,284.94 L51.10,285.21 L51.76,285.44 L52.40,285.62 L53.04,285.74 L53.66,285.78 L54.27,285.67 L54.84,285.44 L55.39,285.16 L55.93,284.90 L56.48,284.64 L57.06,284.35 L57.66,284.04 L58.30,283.73 L58.96,283.42 L59.65,283.10 L60.36,282.81 L61.10,282.54 L61.86,282.33 L62.64,282.19 L63.44,282.11 L64.24,282.13 L65.03,282.22 L65.81,282.38 L66.56,282.61 L67.30,282.88 L68.00,283.18 L68.68,283.49 L69.34,283.79 L69.97,284.08 L70.58,284.34 L71.17,284.56 L71.73,284.73 L72.26,284.84 L72.79,284.91 L73.30,284.92 L73.83,284.88 L74.36,284.78 L74.92,284.64 L75.51,284.44 L76.12,284.21 L76.77,283.97 L77.45,283.71 L78.16,283.48 L78.91,283.32 L79.69,283.27 L80.53,283.53 L80.67,284.01 L80.19,284.69 L79.66,285.15 L79.09,285.56 L78.48,285.93 L77.85,286.29 L77.18,286.64 L76.48,286.95 L75.74,287.22 L74.99,287.44 L74.21,287.59 L73.41,287.67 L72.61,287.67 L71.82,287.58 L71.04,287.42 L70.28,287.20 L69.55,286.94 L68.84,286.64 L68.16,286.33 L67.50,286.03 L66.87,285.74 L66.25,285.48 L65.67,285.26 L65.11,285.09 L64.57,284.97 L64.05,284.90 L63.53,284.89 L63.01,284.93 L62.48,285.03 L61.92,285.17 L61.34,285.37 L60.73,285.61 L60.10,285.89 L59.45,286.18 L58.77,286.48 L58.06,286.75 L57.32,286.97 L56.56,287.13 L55.78,287.19 L55.01,287.10 L54.26,286.93 L53.56,286.74 L52.86,286.58 L52.18,286.37 L51.51,286.12 L50.85,285.83 L50.19,285.52 L49.53,285.20 L48.87,284.89 Z" fill="#f6c331" stroke="#6e6028" stroke-width="0.55" stroke-linejoin="round"/>
<path d="M86.31,283.82 L87.01,284.12 L87.69,284.44 L88.38,284.77 L89.06,285.07 L89.73,285.33 L90.40,285.54 L91.05,285.67 L91.69,285.63 L92.29,285.46 L92.85,285.24 L93.39,285.01 L93.94,284.78 L94.51,284.50 L95.11,284.18 L95.75,283.86 L96.43,283.51 L97.13,283.17 L97.86,282.84 L98.63,282.55 L99.43,282.31 L100.25,282.16 L101.09,282.11 L101.94,282.16 L102.76,282.30 L103.57,282.52 L104.34,282.81 L105.07,283.13 L105.78,283.48 L106.46,283.81 L107.11,284.13 L107.72,284.40 L108.31,284.62 L108.86,284.78 L109.39,284.88 L109.90,284.91 L110.41,284.89 L110.94,284.80 L111.50,284.65 L112.09,284.43 L112.71,284.17 L113.36,283.86 L114.05,283.55 L114.77,283.24 L115.53,282.97 L116.31,282.77 L117.12,282.70 L117.93,282.80 L118.70,283.25 L118.70,283.75 L118.11,284.29 L117.57,284.62 L117.03,284.94 L116.46,285.24 L115.86,285.56 L115.23,285.92 L114.56,286.28 L113.86,286.63 L113.13,286.96 L112.36,287.25 L111.56,287.48 L110.74,287.63 L109.90,287.69 L109.06,287.64 L108.23,287.50 L107.43,287.27 L106.66,286.99 L105.92,286.66 L105.21,286.32 L104.54,285.98 L103.89,285.67 L103.27,285.40 L102.69,285.18 L102.14,285.02 L101.61,284.92 L101.10,284.89 L100.58,284.92 L100.06,285.01 L99.50,285.16 L98.91,285.38 L98.29,285.64 L97.64,285.95 L96.96,286.28 L96.25,286.61 L95.50,286.90 L94.71,287.12 L93.91,287.27 L93.09,287.28 L92.29,287.14 L91.54,286.89 L90.83,286.61 L90.13,286.35 L89.44,286.05 L88.76,285.72 L88.08,285.36 L87.41,285.01 L86.75,284.68 L86.09,284.38 Z" fill="#f6c331" stroke="#6e6028" stroke-width="0.55" stroke-linejoin="round"/>
<path d="M154.62,255.98 L155.32,256.30 L156.01,256.60 L156.70,256.88 L157.38,257.13 L158.06,257.31 L158.72,257.44 L159.38,257.48 L160.02,257.37 L160.62,257.13 L161.19,256.84 L161.76,256.57 L162.35,256.29 L162.96,255.98 L163.60,255.65 L164.28,255.33 L164.98,255.00 L165.71,254.68 L166.46,254.39 L167.24,254.14 L168.05,253.95 L168.87,253.84 L169.71,253.81 L170.54,253.88 L171.36,254.02 L172.16,254.23 L172.93,254.50 L173.67,254.80 L174.39,255.12 L175.08,255.44 L175.75,255.75 L176.39,256.02 L177.01,256.25 L177.60,256.42 L178.16,256.54 L178.71,256.60 L179.26,256.61 L179.81,256.56 L180.37,256.45 L180.97,256.29 L181.59,256.07 L182.23,255.81 L182.91,255.53 L183.62,255.25 L184.36,254.98 L185.12,254.76 L185.92,254.64 L186.74,254.66 L187.57,255.01 L187.63,255.51 L187.08,256.12 L186.52,256.52 L185.94,256.89 L185.33,257.23 L184.69,257.58 L184.02,257.93 L183.31,258.28 L182.58,258.59 L181.82,258.88 L181.03,259.11 L180.22,259.28 L179.39,259.37 L178.56,259.38 L177.73,259.29 L176.91,259.13 L176.12,258.90 L175.36,258.62 L174.62,258.31 L173.91,257.99 L173.23,257.67 L172.56,257.37 L171.93,257.11 L171.32,256.90 L170.74,256.74 L170.18,256.64 L169.63,256.59 L169.09,256.60 L168.54,256.67 L167.96,256.80 L167.37,256.98 L166.74,257.21 L166.09,257.48 L165.41,257.78 L164.71,258.09 L163.97,258.37 L163.20,258.61 L162.41,258.79 L161.60,258.86 L160.80,258.79 L160.02,258.63 L159.28,258.45 L158.55,258.28 L157.84,258.07 L157.14,257.80 L156.44,257.50 L155.75,257.18 L155.06,256.85 L154.38,256.53 Z" fill="#f6c331" stroke="#6e6028" stroke-width="0.55" stroke-linejoin="round"/>
<path d="M191.73,256.31 L192.39,256.61 L193.06,256.90 L193.72,257.14 L194.37,257.34 L195.01,257.47 L195.65,257.54 L196.27,257.52 L196.87,257.34 L197.44,257.05 L197.98,256.71 L198.53,256.40 L199.12,256.08 L199.72,255.74 L200.36,255.40 L201.03,255.07 L201.73,254.75 L202.46,254.45 L203.21,254.19 L203.99,253.99 L204.79,253.86 L205.60,253.81 L206.41,253.85 L207.21,253.98 L208.00,254.17 L208.75,254.42 L209.48,254.71 L210.19,255.02 L210.87,255.34 L211.52,255.65 L212.15,255.93 L212.75,256.17 L213.32,256.36 L213.87,256.50 L214.41,256.58 L214.93,256.61 L215.45,256.59 L215.98,256.51 L216.54,256.37 L217.12,256.18 L217.73,255.94 L218.37,255.67 L219.03,255.38 L219.73,255.10 L220.46,254.84 L221.21,254.63 L221.99,254.54 L222.79,254.59 L223.58,254.98 L223.62,255.48 L223.08,256.06 L222.54,256.44 L221.99,256.78 L221.41,257.10 L220.80,257.43 L220.17,257.77 L219.50,258.11 L218.80,258.43 L218.08,258.73 L217.33,259.00 L216.55,259.20 L215.75,259.34 L214.94,259.39 L214.13,259.35 L213.33,259.23 L212.54,259.04 L211.78,258.79 L211.05,258.50 L210.35,258.19 L209.67,257.87 L209.01,257.57 L208.38,257.28 L207.78,257.04 L207.20,256.85 L206.65,256.70 L206.12,256.62 L205.60,256.59 L205.08,256.61 L204.54,256.69 L203.99,256.82 L203.41,257.01 L202.80,257.25 L202.17,257.52 L201.51,257.82 L200.81,258.10 L200.08,258.35 L199.33,258.57 L198.56,258.69 L197.76,258.69 L197.00,258.60 L196.26,258.48 L195.55,258.39 L194.85,258.24 L194.16,258.03 L193.48,257.77 L192.81,257.48 L192.14,257.17 L191.47,256.85 Z" fill="#f6c331" stroke="#6e6028" stroke-width="0.55" stroke-linejoin="round"/>
<path d="M228.72,255.93 L229.41,256.24 L230.09,256.55 L230.77,256.84 L231.44,257.09 L232.11,257.29 L232.77,257.42 L233.41,257.48 L234.04,257.37 L234.63,257.14 L235.19,256.86 L235.75,256.59 L236.32,256.32 L236.92,256.01 L237.55,255.68 L238.21,255.36 L238.90,255.03 L239.62,254.70 L240.36,254.41 L241.13,254.15 L241.93,253.96 L242.74,253.84 L243.57,253.81 L244.40,253.87 L245.21,254.02 L246.00,254.23 L246.77,254.50 L247.50,254.81 L248.21,255.13 L248.89,255.45 L249.55,255.75 L250.18,256.03 L250.78,256.25 L251.36,256.43 L251.91,256.54 L252.44,256.61 L252.97,256.61 L253.51,256.56 L254.07,256.45 L254.65,256.28 L255.26,256.06 L255.89,255.79 L256.56,255.51 L257.26,255.23 L257.99,254.96 L258.75,254.73 L259.54,254.61 L260.35,254.64 L261.17,255.00 L261.23,255.50 L260.69,256.10 L260.14,256.50 L259.57,256.86 L258.98,257.20 L258.35,257.55 L257.69,257.90 L257.00,258.25 L256.28,258.57 L255.53,258.86 L254.75,259.10 L253.95,259.28 L253.13,259.37 L252.30,259.38 L251.47,259.29 L250.67,259.13 L249.88,258.90 L249.13,258.62 L248.40,258.31 L247.70,257.98 L247.02,257.66 L246.37,257.37 L245.75,257.11 L245.16,256.89 L244.59,256.74 L244.04,256.63 L243.51,256.59 L242.98,256.60 L242.44,256.68 L241.88,256.80 L241.29,256.99 L240.68,257.22 L240.03,257.50 L239.37,257.81 L238.67,258.12 L237.94,258.40 L237.18,258.63 L236.40,258.81 L235.59,258.88 L234.79,258.80 L234.03,258.63 L233.30,258.44 L232.58,258.26 L231.88,258.03 L231.19,257.76 L230.50,257.45 L229.83,257.13 L229.15,256.79 L228.48,256.48 Z" fill="#f6c331" stroke="#6e6028" stroke-width="0.55" stroke-linejoin="round"/>
<path d="M154.62,265.68 L155.32,266.00 L156.01,266.30 L156.70,266.58 L157.38,266.83 L158.06,267.01 L158.72,267.14 L159.38,267.18 L160.02,267.07 L160.62,266.83 L161.19,266.54 L161.76,266.27 L162.35,265.99 L162.96,265.68 L163.60,265.35 L164.28,265.03 L164.98,264.70 L165.71,264.38 L166.46,264.09 L167.24,263.84 L168.05,263.65 L168.87,263.54 L169.71,263.51 L170.54,263.58 L171.36,263.72 L172.16,263.93 L172.93,264.20 L173.67,264.50 L174.39,264.82 L175.08,265.14 L175.75,265.45 L176.39,265.72 L177.01,265.95 L177.60,266.12 L178.16,266.24 L178.71,266.30 L179.26,266.31 L179.81,266.26 L180.37,266.15 L180.97,265.99 L181.59,265.77 L182.23,265.51 L182.91,265.23 L183.62,264.95 L184.36,264.68 L185.12,264.46 L185.92,264.34 L186.74,264.36 L187.57,264.71 L187.63,265.21 L187.08,265.82 L186.52,266.22 L185.94,266.59 L185.33,266.93 L184.69,267.28 L184.02,267.63 L183.31,267.98 L182.58,268.29 L181.82,268.58 L181.03,268.81 L180.22,268.98 L179.39,269.07 L178.56,269.08 L177.73,268.99 L176.91,268.83 L176.12,268.60 L175.36,268.32 L174.62,268.01 L173.91,267.69 L173.23,267.37 L172.56,267.07 L171.93,266.81 L171.32,266.60 L170.74,266.44 L170.18,266.34 L169.63,266.29 L169.09,266.30 L168.54,266.37 L167.96,266.50 L167.37,266.68 L166.74,266.91 L166.09,267.18 L165.41,267.48 L164.71,267.79 L163.97,268.07 L163.20,268.31 L162.41,268.49 L161.60,268.56 L160.80,268.49 L160.02,268.33 L159.28,268.15 L158.55,267.98 L157.84,267.77 L157.14,267.50 L156.44,267.20 L155.75,266.88 L155.06,266.55 L154.38,266.23 Z" fill="#f6c331" stroke="#6e6028" stroke-width="0.55" stroke-linejoin="round"/>
<path d="M191.73,266.01 L192.39,266.31 L193.06,266.60 L193.72,266.84 L194.37,267.04 L195.01,267.17 L195.65,267.24 L196.27,267.22 L196.87,267.04 L197.44,266.75 L197.98,266.41 L198.53,266.10 L199.12,265.78 L199.72,265.44 L200.36,265.10 L201.03,264.77 L201.73,264.45 L202.46,264.15 L203.21,263.89 L203.99,263.69 L204.79,263.56 L205.60,263.51 L206.41,263.55 L207.21,263.68 L208.00,263.87 L208.75,264.12 L209.48,264.41 L210.19,264.72 L210.87,265.04 L211.52,265.35 L212.15,265.63 L212.75,265.87 L213.32,266.06 L213.87,266.20 L214.41,266.28 L214.93,266.31 L215.45,266.29 L215.98,266.21 L216.54,266.07 L217.12,265.88 L217.73,265.64 L218.37,265.37 L219.03,265.08 L219.73,264.80 L220.46,264.54 L221.21,264.33 L221.99,264.24 L222.79,264.29 L223.58,264.68 L223.62,265.18 L223.08,265.76 L222.54,266.14 L221.99,266.48 L221.41,266.80 L220.80,267.13 L220.17,267.47 L219.50,267.81 L218.80,268.13 L218.08,268.43 L217.33,268.70 L216.55,268.90 L215.75,269.04 L214.94,269.09 L214.13,269.05 L213.33,268.93 L212.54,268.74 L211.78,268.49 L211.05,268.20 L210.35,267.89 L209.67,267.57 L209.01,267.27 L208.38,266.98 L207.78,266.74 L207.20,266.55 L206.65,266.40 L206.12,266.32 L205.60,266.29 L205.08,266.31 L204.54,266.39 L203.99,266.52 L203.41,266.71 L202.80,266.95 L202.17,267.22 L201.51,267.52 L200.81,267.80 L200.08,268.05 L199.33,268.27 L198.56,268.39 L197.76,268.39 L197.00,268.30 L196.26,268.18 L195.55,268.09 L194.85,267.94 L194.16,267.73 L193.48,267.47 L192.81,267.18 L192.14,266.87 L191.47,266.55 Z" fill="#f6c331" stroke="#6e6028" stroke-width="0.55" stroke-linejoin="round"/>
<path d="M228.72,265.63 L229.41,265.94 L230.09,266.25 L230.77,266.54 L231.44,266.79 L232.11,266.99 L232.77,267.12 L233.41,267.18 L234.04,267.07 L234.63,266.84 L235.19,266.56 L235.75,266.29 L236.32,266.02 L236.92,265.71 L237.55,265.38 L238.21,265.06 L238.90,264.73 L239.62,264.40 L240.36,264.11 L241.13,263.85 L241.93,263.66 L242.74,263.54 L243.57,263.51 L244.40,263.57 L245.21,263.72 L246.00,263.93 L246.77,264.20 L247.50,264.51 L248.21,264.83 L248.89,265.15 L249.55,265.45 L250.18,265.73 L250.78,265.95 L251.36,266.13 L251.91,266.24 L252.44,266.31 L252.97,266.31 L253.51,266.26 L254.07,266.15 L254.65,265.98 L255.26,265.76 L255.89,265.49 L256.56,265.21 L257.26,264.93 L257.99,264.66 L258.75,264.43 L259.54,264.31 L260.35,264.34 L261.17,264.70 L261.23,265.20 L260.69,265.80 L260.14,266.20 L259.57,266.56 L258.98,266.90 L258.35,267.25 L257.69,267.60 L257.00,267.95 L256.28,268.27 L255.53,268.56 L254.75,268.80 L253.95,268.98 L253.13,269.07 L252.30,269.08 L251.47,268.99 L250.67,268.83 L249.88,268.60 L249.13,268.32 L248.40,268.01 L247.70,267.68 L247.02,267.36 L246.37,267.07 L245.75,266.81 L245.16,266.59 L244.59,266.44 L244.04,266.33 L243.51,266.29 L242.98,266.30 L242.44,266.38 L241.88,266.50 L241.29,266.69 L240.68,266.92 L240.03,267.20 L239.37,267.51 L238.67,267.82 L237.94,268.10 L237.18,268.33 L236.40,268.51 L235.59,268.58 L234.79,268.50 L234.03,268.33 L233.30,268.14 L232.58,267.96 L231.88,267.73 L231.19,267.46 L230.50,267.15 L229.83,266.83 L229.15,266.49 L228.48,266.18 Z" fill="#f6c331" stroke="#6e6028" stroke-width="0.55" stroke-linejoin="round"/>
<path d="M154.62,273.98 L155.32,274.30 L156.01,274.60 L156.70,274.88 L157.38,275.13 L158.06,275.31 L158.72,275.44 L159.38,275.48 L160.02,275.37 L160.62,275.13 L161.19,274.84 L161.76,274.57 L162.35,274.29 L162.96,273.98 L163.60,273.65 L164.28,273.33 L164.98,273.00 L165.71,272.68 L166.46,272.39 L167.24,272.14 L168.05,271.95 L168.87,271.84 L169.71,271.81 L170.54,271.88 L171.36,272.02 L172.16,272.23 L172.93,272.50 L173.67,272.80 L174.39,273.12 L175.08,273.44 L175.75,273.75 L176.39,274.02 L177.01,274.25 L177.60,274.42 L178.16,274.54 L178.71,274.60 L179.26,274.61 L179.81,274.56 L180.37,274.45 L180.97,274.29 L181.59,274.07 L182.23,273.81 L182.91,273.53 L183.62,273.25 L184.36,272.98 L185.12,272.76 L185.92,272.64 L186.74,272.66 L187.57,273.01 L187.63,273.51 L187.08,274.12 L186.52,274.52 L185.94,274.89 L185.33,275.23 L184.69,275.58 L184.02,275.93 L183.31,276.28 L182.58,276.59 L181.82,276.88 L181.03,277.11 L180.22,277.28 L179.39,277.37 L178.56,277.38 L177.73,277.29 L176.91,277.13 L176.12,276.90 L175.36,276.62 L174.62,276.31 L173.91,275.99 L173.23,275.67 L172.56,275.37 L171.93,275.11 L171.32,274.90 L170.74,274.74 L170.18,274.64 L169.63,274.59 L169.09,274.60 L168.54,274.67 L167.96,274.80 L167.37,274.98 L166.74,275.21 L166.09,275.48 L165.41,275.78 L164.71,276.09 L163.97,276.37 L163.20,276.61 L162.41,276.79 L161.60,276.86 L160.80,276.79 L160.02,276.63 L159.28,276.45 L158.55,276.28 L157.84,276.07 L157.14,275.80 L156.44,275.50 L155.75,275.18 L155.06,274.85 L154.38,274.53 Z" fill="#4a50b6" stroke="#262c6e" stroke-width="0.55" stroke-linejoin="round"/>
<path d="M191.73,274.31 L192.39,274.61 L193.06,274.90 L193.72,275.14 L194.37,275.34 L195.01,275.47 L195.65,275.54 L196.27,275.52 L196.87,275.34 L197.44,275.05 L197.98,274.71 L198.53,274.40 L199.12,274.08 L199.72,273.74 L200.36,273.40 L201.03,273.07 L201.73,272.75 L202.46,272.45 L203.21,272.19 L203.99,271.99 L204.79,271.86 L205.60,271.81 L206.41,271.85 L207.21,271.98 L208.00,272.17 L208.75,272.42 L209.48,272.71 L210.19,273.02 L210.87,273.34 L211.52,273.65 L212.15,273.93 L212.75,274.17 L213.32,274.36 L213.87,274.50 L214.41,274.58 L214.93,274.61 L215.45,274.59 L215.98,274.51 L216.54,274.37 L217.12,274.18 L217.73,273.94 L218.37,273.67 L219.03,273.38 L219.73,273.10 L220.46,272.84 L221.21,272.63 L221.99,272.54 L222.79,272.59 L223.58,272.98 L223.62,273.48 L223.08,274.06 L222.54,274.44 L221.99,274.78 L221.41,275.10 L220.80,275.43 L220.17,275.77 L219.50,276.11 L218.80,276.43 L218.08,276.73 L217.33,277.00 L216.55,277.20 L215.75,277.34 L214.94,277.39 L214.13,277.35 L213.33,277.23 L212.54,277.04 L211.78,276.79 L211.05,276.50 L210.35,276.19 L209.67,275.87 L209.01,275.57 L208.38,275.28 L207.78,275.04 L207.20,274.85 L206.65,274.70 L206.12,274.62 L205.60,274.59 L205.08,274.61 L204.54,274.69 L203.99,274.82 L203.41,275.01 L202.80,275.25 L202.17,275.52 L201.51,275.82 L200.81,276.10 L200.08,276.35 L199.33,276.57 L198.56,276.69 L197.76,276.69 L197.00,276.60 L196.26,276.48 L195.55,276.39 L194.85,276.24 L194.16,276.03 L193.48,275.77 L192.81,275.48 L192.14,275.17 L191.47,274.85 Z" fill="#f6c331" stroke="#6e6028" stroke-width="0.55" stroke-linejoin="round"/>
<path d="M228.72,273.93 L229.41,274.24 L230.09,274.55 L230.77,274.84 L231.44,275.09 L232.11,275.29 L232.77,275.42 L233.41,275.48 L234.04,275.37 L234.63,275.14 L235.19,274.86 L235.75,274.59 L236.32,274.32 L236.92,274.01 L237.55,273.68 L238.21,273.36 L238.90,273.03 L239.62,272.70 L240.36,272.41 L241.13,272.15 L241.93,271.96 L242.74,271.84 L243.57,271.81 L244.40,271.87 L245.21,272.02 L246.00,272.23 L246.77,272.50 L247.50,272.81 L248.21,273.13 L248.89,273.45 L249.55,273.75 L250.18,274.03 L250.78,274.25 L251.36,274.43 L251.91,274.54 L252.44,274.61 L252.97,274.61 L253.51,274.56 L254.07,274.45 L254.65,274.28 L255.26,274.06 L255.89,273.79 L256.56,273.51 L257.26,273.23 L257.99,272.96 L258.75,272.73 L259.54,272.61 L260.35,272.64 L261.17,273.00 L261.23,273.50 L260.69,274.10 L260.14,274.50 L259.57,274.86 L258.98,275.20 L258.35,275.55 L257.69,275.90 L257.00,276.25 L256.28,276.57 L255.53,276.86 L254.75,277.10 L253.95,277.28 L253.13,277.37 L252.30,277.38 L251.47,277.29 L250.67,277.13 L249.88,276.90 L249.13,276.62 L248.40,276.31 L247.70,275.98 L247.02,275.66 L246.37,275.37 L245.75,275.11 L245.16,274.89 L244.59,274.74 L244.04,274.63 L243.51,274.59 L242.98,274.60 L242.44,274.68 L241.88,274.80 L241.29,274.99 L240.68,275.22 L240.03,275.50 L239.37,275.81 L238.67,276.12 L237.94,276.40 L237.18,276.63 L236.40,276.81 L235.59,276.88 L234.79,276.80 L234.03,276.63 L233.30,276.44 L232.58,276.26 L231.88,276.03 L231.19,275.76 L230.50,275.45 L229.83,275.13 L229.15,274.79 L228.48,274.48 Z" fill="#f6c331" stroke="#6e6028" stroke-width="0.55" stroke-linejoin="round"/>
<path d="M154.62,284.08 L155.32,284.40 L156.01,284.70 L156.70,284.98 L157.38,285.23 L158.06,285.41 L158.72,285.54 L159.38,285.58 L160.02,285.47 L160.62,285.23 L161.19,284.94 L161.76,284.67 L162.35,284.39 L162.96,284.08 L163.60,283.75 L164.28,283.43 L164.98,283.10 L165.71,282.78 L166.46,282.49 L167.24,282.24 L168.05,282.05 L168.87,281.94 L169.71,281.91 L170.54,281.98 L171.36,282.12 L172.16,282.33 L172.93,282.60 L173.67,282.90 L174.39,283.22 L175.08,283.54 L175.75,283.85 L176.39,284.12 L177.01,284.35 L177.60,284.52 L178.16,284.64 L178.71,284.70 L179.26,284.71 L179.81,284.66 L180.37,284.55 L180.97,284.39 L181.59,284.17 L182.23,283.91 L182.91,283.63 L183.62,283.35 L184.36,283.08 L185.12,282.86 L185.92,282.74 L186.74,282.76 L187.57,283.11 L187.63,283.61 L187.08,284.22 L186.52,284.62 L185.94,284.99 L185.33,285.33 L184.69,285.68 L184.02,286.03 L183.31,286.38 L182.58,286.69 L181.82,286.98 L181.03,287.21 L180.22,287.38 L179.39,287.47 L178.56,287.48 L177.73,287.39 L176.91,287.23 L176.12,287.00 L175.36,286.72 L174.62,286.41 L173.91,286.09 L173.23,285.77 L172.56,285.47 L171.93,285.21 L171.32,285.00 L170.74,284.84 L170.18,284.74 L169.63,284.69 L169.09,284.70 L168.54,284.77 L167.96,284.90 L167.37,285.08 L166.74,285.31 L166.09,285.58 L165.41,285.88 L164.71,286.19 L163.97,286.47 L163.20,286.71 L162.41,286.89 L161.60,286.96 L160.80,286.89 L160.02,286.73 L159.28,286.55 L158.55,286.38 L157.84,286.17 L157.14,285.90 L156.44,285.60 L155.75,285.28 L155.06,284.95 L154.38,284.63 Z" fill="#34a04e" stroke="#1d5529" stroke-width="0.55" stroke-linejoin="round"/>
<path d="M191.73,284.41 L192.39,284.71 L193.06,285.00 L193.72,285.24 L194.37,285.44 L195.01,285.57 L195.65,285.64 L196.27,285.62 L196.87,285.44 L197.44,285.15 L197.98,284.81 L198.53,284.50 L199.12,284.18 L199.72,283.84 L200.36,283.50 L201.03,283.17 L201.73,282.85 L202.46,282.55 L203.21,282.29 L203.99,282.09 L204.79,281.96 L205.60,281.91 L206.41,281.95 L207.21,282.08 L208.00,282.27 L208.75,282.52 L209.48,282.81 L210.19,283.12 L210.87,283.44 L211.52,283.75 L212.15,284.03 L212.75,284.27 L213.32,284.46 L213.87,284.60 L214.41,284.68 L214.93,284.71 L215.45,284.69 L215.98,284.61 L216.54,284.47 L217.12,284.28 L217.73,284.04 L218.37,283.77 L219.03,283.48 L219.73,283.20 L220.46,282.94 L221.21,282.73 L221.99,282.64 L222.79,282.69 L223.58,283.08 L223.62,283.58 L223.08,284.16 L222.54,284.54 L221.99,284.88 L221.41,285.20 L220.80,285.53 L220.17,285.87 L219.50,286.21 L218.80,286.53 L218.08,286.83 L217.33,287.10 L216.55,287.30 L215.75,287.44 L214.94,287.49 L214.13,287.45 L213.33,287.33 L212.54,287.14 L211.78,286.89 L211.05,286.60 L210.35,286.29 L209.67,285.97 L209.01,285.67 L208.38,285.38 L207.78,285.14 L207.20,284.95 L206.65,284.80 L206.12,284.72 L205.60,284.69 L205.08,284.71 L204.54,284.79 L203.99,284.92 L203.41,285.11 L202.80,285.35 L202.17,285.62 L201.51,285.92 L200.81,286.20 L200.08,286.45 L199.33,286.67 L198.56,286.79 L197.76,286.79 L197.00,286.70 L196.26,286.58 L195.55,286.49 L194.85,286.34 L194.16,286.13 L193.48,285.87 L192.81,285.58 L192.14,285.27 L191.47,284.95 Z" fill="#f6c331" stroke="#6e6028" stroke-width="0.55" stroke-linejoin="round"/>
<path d="M228.72,284.03 L229.41,284.34 L230.09,284.65 L230.77,284.94 L231.44,285.19 L232.11,285.39 L232.77,285.52 L233.41,285.58 L234.04,285.47 L234.63,285.24 L235.19,284.96 L235.75,284.69 L236.32,284.42 L236.92,284.11 L237.55,283.78 L238.21,283.46 L238.90,283.13 L239.62,282.80 L240.36,282.51 L241.13,282.25 L241.93,282.06 L242.74,281.94 L243.57,281.91 L244.40,281.97 L245.21,282.12 L246.00,282.33 L246.77,282.60 L247.50,282.91 L248.21,283.23 L248.89,283.55 L249.55,283.85 L250.18,284.13 L250.78,284.35 L251.36,284.53 L251.91,284.64 L252.44,284.71 L252.97,284.71 L253.51,284.66 L254.07,284.55 L254.65,284.38 L255.26,284.16 L255.89,283.89 L256.56,283.61 L257.26,283.33 L257.99,283.06 L258.75,282.83 L259.54,282.71 L260.35,282.74 L261.17,283.10 L261.23,283.60 L260.69,284.20 L260.14,284.60 L259.57,284.96 L258.98,285.30 L258.35,285.65 L257.69,286.00 L257.00,286.35 L256.28,286.67 L255.53,286.96 L254.75,287.20 L253.95,287.38 L253.13,287.47 L252.30,287.48 L251.47,287.39 L250.67,287.23 L249.88,287.00 L249.13,286.72 L248.40,286.41 L247.70,286.08 L247.02,285.76 L246.37,285.47 L245.75,285.21 L245.16,284.99 L244.59,284.84 L244.04,284.73 L243.51,284.69 L242.98,284.70 L242.44,284.78 L241.88,284.90 L241.29,285.09 L240.68,285.32 L240.03,285.60 L239.37,285.91 L238.67,286.22 L237.94,286.50 L237.18,286.73 L236.40,286.91 L235.59,286.98 L234.79,286.90 L234.03,286.73 L233.30,286.54 L232.58,286.36 L231.88,286.13 L231.19,285.86 L230.50,285.55 L229.83,285.23 L229.15,284.89 L228.48,284.58 Z" fill="#f6c331" stroke="#6e6028" stroke-width="0.55" stroke-linejoin="round"/>
<path d="M287.91,255.12 L288.64,255.43 L289.36,255.74 L290.08,256.04 L290.79,256.31 L291.50,256.54 L292.20,256.72 L292.89,256.81 L293.57,256.75 L294.21,256.56 L294.81,256.32 L295.41,256.09 L296.01,255.85 L296.63,255.56 L297.28,255.26 L297.97,254.95 L298.68,254.62 L299.41,254.29 L300.17,253.97 L300.96,253.69 L301.77,253.46 L302.61,253.30 L303.46,253.22 L304.32,253.22 L305.17,253.32 L306.01,253.49 L306.82,253.73 L307.61,254.02 L308.37,254.33 L309.10,254.66 L309.81,254.97 L310.49,255.27 L311.14,255.52 L311.77,255.73 L312.37,255.89 L312.96,255.98 L313.53,256.02 L314.10,255.99 L314.69,255.91 L315.30,255.77 L315.93,255.58 L316.59,255.33 L317.28,255.06 L318.00,254.79 L318.75,254.51 L319.53,254.28 L320.35,254.14 L321.20,254.13 L322.06,254.46 L322.14,254.95 L321.58,255.58 L320.99,256.01 L320.38,256.40 L319.73,256.76 L319.05,257.12 L318.35,257.48 L317.61,257.83 L316.84,258.13 L316.04,258.40 L315.22,258.60 L314.38,258.74 L313.52,258.78 L312.66,258.74 L311.82,258.61 L310.99,258.41 L310.19,258.15 L309.42,257.85 L308.67,257.53 L307.95,257.21 L307.25,256.90 L306.58,256.62 L305.94,256.38 L305.32,256.20 L304.73,256.07 L304.15,256.00 L303.58,255.99 L303.00,256.04 L302.41,256.15 L301.79,256.32 L301.15,256.54 L300.48,256.80 L299.79,257.10 L299.07,257.42 L298.33,257.73 L297.55,258.00 L296.74,258.21 L295.91,258.35 L295.08,258.37 L294.25,258.23 L293.47,258.01 L292.72,257.76 L291.98,257.54 L291.25,257.28 L290.52,256.98 L289.81,256.65 L289.10,256.31 L288.39,255.98 L287.69,255.68 Z" fill="#34a04e" stroke="#1d5529" stroke-width="0.55" stroke-linejoin="round"/>
<path d="M325.82,255.43 L326.54,255.74 L327.26,256.03 L327.97,256.31 L328.68,256.54 L329.38,256.72 L330.08,256.84 L330.76,256.88 L331.43,256.77 L332.07,256.53 L332.68,256.25 L333.29,255.99 L333.91,255.72 L334.55,255.42 L335.21,255.10 L335.91,254.79 L336.63,254.47 L337.38,254.16 L338.15,253.86 L338.94,253.61 L339.76,253.41 L340.59,253.27 L341.44,253.21 L342.29,253.23 L343.13,253.34 L343.96,253.51 L344.76,253.74 L345.55,254.02 L346.30,254.32 L347.04,254.63 L347.75,254.94 L348.44,255.23 L349.10,255.48 L349.74,255.69 L350.36,255.85 L350.96,255.96 L351.55,256.01 L352.13,256.01 L352.72,255.95 L353.33,255.84 L353.96,255.67 L354.61,255.46 L355.30,255.21 L356.01,254.96 L356.75,254.70 L357.52,254.47 L358.33,254.32 L359.16,254.29 L360.04,254.57 L360.16,255.06 L359.60,255.72 L359.01,256.17 L358.38,256.58 L357.72,256.95 L357.02,257.31 L356.30,257.66 L355.55,257.98 L354.77,258.26 L353.97,258.49 L353.14,258.66 L352.30,258.76 L351.45,258.78 L350.61,258.71 L349.77,258.57 L348.96,258.37 L348.16,258.11 L347.40,257.82 L346.65,257.51 L345.93,257.20 L345.23,256.90 L344.55,256.63 L343.90,256.40 L343.27,256.22 L342.67,256.09 L342.08,256.01 L341.49,255.99 L340.91,256.03 L340.31,256.12 L339.69,256.26 L339.05,256.46 L338.39,256.70 L337.70,256.98 L336.99,257.27 L336.25,257.58 L335.49,257.84 L334.69,258.06 L333.88,258.22 L333.05,258.28 L332.23,258.20 L331.43,258.03 L330.67,257.84 L329.92,257.68 L329.18,257.47 L328.45,257.22 L327.73,256.93 L327.01,256.62 L326.30,256.30 L325.58,255.99 Z" fill="#34a04e" stroke="#1d5529" stroke-width="0.55" stroke-linejoin="round"/>
<path d="M362.62,255.61 L363.34,255.91 L364.05,256.20 L364.76,256.45 L365.47,256.66 L366.17,256.81 L366.86,256.90 L367.54,256.91 L368.20,256.76 L368.83,256.49 L369.43,256.18 L370.04,255.88 L370.68,255.59 L371.33,255.27 L372.00,254.94 L372.71,254.62 L373.45,254.30 L374.21,253.99 L374.99,253.72 L375.80,253.49 L376.62,253.32 L377.47,253.23 L378.32,253.22 L379.16,253.28 L380.00,253.43 L380.81,253.63 L381.60,253.89 L382.37,254.18 L383.12,254.49 L383.84,254.81 L384.54,255.10 L385.21,255.37 L385.86,255.60 L386.49,255.79 L387.10,255.92 L387.69,255.99 L388.27,256.02 L388.86,255.98 L389.46,255.89 L390.08,255.75 L390.72,255.55 L391.39,255.31 L392.08,255.05 L392.81,254.78 L393.56,254.52 L394.34,254.30 L395.15,254.17 L395.99,254.16 L396.86,254.48 L396.94,254.98 L396.37,255.62 L395.78,256.04 L395.16,256.43 L394.51,256.78 L393.83,257.14 L393.12,257.49 L392.38,257.82 L391.61,258.11 L390.82,258.37 L390.01,258.58 L389.17,258.72 L388.33,258.78 L387.48,258.76 L386.64,258.66 L385.81,258.49 L385.00,258.26 L384.22,257.99 L383.46,257.69 L382.73,257.38 L382.02,257.07 L381.33,256.78 L380.66,256.53 L380.02,256.31 L379.40,256.15 L378.80,256.05 L378.22,255.99 L377.63,256.00 L377.04,256.06 L376.44,256.17 L375.81,256.34 L375.16,256.56 L374.48,256.81 L373.79,257.10 L373.06,257.40 L372.31,257.67 L371.52,257.91 L370.72,258.10 L369.90,258.19 L369.07,258.15 L368.27,258.02 L367.50,257.88 L366.74,257.75 L366.00,257.58 L365.26,257.35 L364.54,257.08 L363.81,256.78 L363.10,256.47 L362.38,256.16 Z" fill="#34a04e" stroke="#1d5529" stroke-width="0.55" stroke-linejoin="round"/>
<path d="M287.91,265.12 L288.64,265.43 L289.36,265.74 L290.08,266.04 L290.79,266.31 L291.50,266.54 L292.20,266.72 L292.89,266.81 L293.57,266.75 L294.21,266.56 L294.81,266.32 L295.41,266.09 L296.01,265.85 L296.63,265.56 L297.28,265.26 L297.97,264.95 L298.68,264.62 L299.41,264.29 L300.17,263.97 L300.96,263.69 L301.77,263.46 L302.61,263.30 L303.46,263.22 L304.32,263.22 L305.17,263.32 L306.01,263.49 L306.82,263.73 L307.61,264.02 L308.37,264.33 L309.10,264.66 L309.81,264.97 L310.49,265.27 L311.14,265.52 L311.77,265.73 L312.37,265.89 L312.96,265.98 L313.53,266.02 L314.10,265.99 L314.69,265.91 L315.30,265.77 L315.93,265.58 L316.59,265.33 L317.28,265.06 L318.00,264.79 L318.75,264.51 L319.53,264.28 L320.35,264.14 L321.20,264.13 L322.06,264.46 L322.14,264.95 L321.58,265.58 L320.99,266.01 L320.38,266.40 L319.73,266.76 L319.05,267.12 L318.35,267.48 L317.61,267.83 L316.84,268.13 L316.04,268.40 L315.22,268.60 L314.38,268.74 L313.52,268.78 L312.66,268.74 L311.82,268.61 L310.99,268.41 L310.19,268.15 L309.42,267.85 L308.67,267.53 L307.95,267.21 L307.25,266.90 L306.58,266.62 L305.94,266.38 L305.32,266.20 L304.73,266.07 L304.15,266.00 L303.58,265.99 L303.00,266.04 L302.41,266.15 L301.79,266.32 L301.15,266.54 L300.48,266.80 L299.79,267.10 L299.07,267.42 L298.33,267.73 L297.55,268.00 L296.74,268.21 L295.91,268.35 L295.08,268.37 L294.25,268.23 L293.47,268.01 L292.72,267.76 L291.98,267.54 L291.25,267.28 L290.52,266.98 L289.81,266.65 L289.10,266.31 L288.39,265.98 L287.69,265.68 Z" fill="#34a04e" stroke="#1d5529" stroke-width="0.55" stroke-linejoin="round"/>
<path d="M325.82,265.43 L326.54,265.74 L327.26,266.03 L327.97,266.31 L328.68,266.54 L329.38,266.72 L330.08,266.84 L330.76,266.88 L331.43,266.77 L332.07,266.53 L332.68,266.25 L333.29,265.99 L333.91,265.72 L334.55,265.42 L335.21,265.10 L335.91,264.79 L336.63,264.47 L337.38,264.16 L338.15,263.86 L338.94,263.61 L339.76,263.41 L340.59,263.27 L341.44,263.21 L342.29,263.23 L343.13,263.34 L343.96,263.51 L344.76,263.74 L345.55,264.02 L346.30,264.32 L347.04,264.63 L347.75,264.94 L348.44,265.23 L349.10,265.48 L349.74,265.69 L350.36,265.85 L350.96,265.96 L351.55,266.01 L352.13,266.01 L352.72,265.95 L353.33,265.84 L353.96,265.67 L354.61,265.46 L355.30,265.21 L356.01,264.96 L356.75,264.70 L357.52,264.47 L358.33,264.32 L359.16,264.29 L360.04,264.57 L360.16,265.06 L359.60,265.72 L359.01,266.17 L358.38,266.58 L357.72,266.95 L357.02,267.31 L356.30,267.66 L355.55,267.98 L354.77,268.26 L353.97,268.49 L353.14,268.66 L352.30,268.76 L351.45,268.78 L350.61,268.71 L349.77,268.57 L348.96,268.37 L348.16,268.11 L347.40,267.82 L346.65,267.51 L345.93,267.20 L345.23,266.90 L344.55,266.63 L343.90,266.40 L343.27,266.22 L342.67,266.09 L342.08,266.01 L341.49,265.99 L340.91,266.03 L340.31,266.12 L339.69,266.26 L339.05,266.46 L338.39,266.70 L337.70,266.98 L336.99,267.27 L336.25,267.58 L335.49,267.84 L334.69,268.06 L333.88,268.22 L333.05,268.28 L332.23,268.20 L331.43,268.03 L330.67,267.84 L329.92,267.68 L329.18,267.47 L328.45,267.22 L327.73,266.93 L327.01,266.62 L326.30,266.30 L325.58,265.99 Z" fill="#34a04e" stroke="#1d5529" stroke-width="0.55" stroke-linejoin="round"/>
<path d="M362.62,265.61 L363.34,265.91 L364.05,266.20 L364.76,266.45 L365.47,266.66 L366.17,266.81 L366.86,266.90 L367.54,266.91 L368.20,266.76 L368.83,266.49 L369.43,266.18 L370.04,265.88 L370.68,265.59 L371.33,265.27 L372.00,264.94 L372.71,264.62 L373.45,264.30 L374.21,263.99 L374.99,263.72 L375.80,263.49 L376.62,263.32 L377.47,263.23 L378.32,263.22 L379.16,263.28 L380.00,263.43 L380.81,263.63 L381.60,263.89 L382.37,264.18 L383.12,264.49 L383.84,264.81 L384.54,265.10 L385.21,265.37 L385.86,265.60 L386.49,265.79 L387.10,265.92 L387.69,265.99 L388.27,266.02 L388.86,265.98 L389.46,265.89 L390.08,265.75 L390.72,265.55 L391.39,265.31 L392.08,265.05 L392.81,264.78 L393.56,264.52 L394.34,264.30 L395.15,264.17 L395.99,264.16 L396.86,264.48 L396.94,264.98 L396.37,265.62 L395.78,266.04 L395.16,266.43 L394.51,266.78 L393.83,267.14 L393.12,267.49 L392.38,267.82 L391.61,268.11 L390.82,268.37 L390.01,268.58 L389.17,268.72 L388.33,268.78 L387.48,268.76 L386.64,268.66 L385.81,268.49 L385.00,268.26 L384.22,267.99 L383.46,267.69 L382.73,267.38 L382.02,267.07 L381.33,266.78 L380.66,266.53 L380.02,266.31 L379.40,266.15 L378.80,266.05 L378.22,265.99 L377.63,266.00 L377.04,266.06 L376.44,266.17 L375.81,266.34 L375.16,266.56 L374.48,266.81 L373.79,267.10 L373.06,267.40 L372.31,267.67 L371.52,267.91 L370.72,268.10 L369.90,268.19 L369.07,268.15 L368.27,268.02 L367.50,267.88 L366.74,267.75 L366.00,267.58 L365.26,267.35 L364.54,267.08 L363.81,266.78 L363.10,266.47 L362.38,266.16 Z" fill="#34a04e" stroke="#1d5529" stroke-width="0.55" stroke-linejoin="round"/>
<path d="M287.91,275.72 L288.64,276.03 L289.36,276.34 L290.08,276.64 L290.79,276.91 L291.50,277.14 L292.20,277.32 L292.89,277.41 L293.57,277.35 L294.21,277.16 L294.81,276.92 L295.41,276.69 L296.01,276.45 L296.63,276.16 L297.28,275.86 L297.97,275.55 L298.68,275.22 L299.41,274.89 L300.17,274.57 L300.96,274.29 L301.77,274.06 L302.61,273.90 L303.46,273.82 L304.32,273.82 L305.17,273.92 L306.01,274.09 L306.82,274.33 L307.61,274.62 L308.37,274.93 L309.10,275.26 L309.81,275.57 L310.49,275.87 L311.14,276.12 L311.77,276.33 L312.37,276.49 L312.96,276.58 L313.53,276.62 L314.10,276.59 L314.69,276.51 L315.30,276.37 L315.93,276.18 L316.59,275.93 L317.28,275.66 L318.00,275.39 L318.75,275.11 L319.53,274.88 L320.35,274.74 L321.20,274.73 L322.06,275.06 L322.14,275.55 L321.58,276.18 L320.99,276.61 L320.38,277.00 L319.73,277.36 L319.05,277.72 L318.35,278.08 L317.61,278.43 L316.84,278.73 L316.04,279.00 L315.22,279.20 L314.38,279.34 L313.52,279.38 L312.66,279.34 L311.82,279.21 L310.99,279.01 L310.19,278.75 L309.42,278.45 L308.67,278.13 L307.95,277.81 L307.25,277.50 L306.58,277.22 L305.94,276.98 L305.32,276.80 L304.73,276.67 L304.15,276.60 L303.58,276.59 L303.00,276.64 L302.41,276.75 L301.79,276.92 L301.15,277.14 L300.48,277.40 L299.79,277.70 L299.07,278.02 L298.33,278.33 L297.55,278.60 L296.74,278.81 L295.91,278.95 L295.08,278.97 L294.25,278.83 L293.47,278.61 L292.72,278.36 L291.98,278.14 L291.25,277.88 L290.52,277.58 L289.81,277.25 L289.10,276.91 L288.39,276.58 L287.69,276.28 Z" fill="#34a04e" stroke="#1d5529" stroke-width="0.55" stroke-linejoin="round"/>
<path d="M325.82,276.03 L326.54,276.34 L327.26,276.63 L327.97,276.91 L328.68,277.14 L329.38,277.32 L330.08,277.44 L330.76,277.48 L331.43,277.37 L332.07,277.13 L332.68,276.85 L333.29,276.59 L333.91,276.32 L334.55,276.02 L335.21,275.70 L335.91,275.39 L336.63,275.07 L337.38,274.76 L338.15,274.46 L338.94,274.21 L339.76,274.01 L340.59,273.87 L341.44,273.81 L342.29,273.83 L343.13,273.94 L343.96,274.11 L344.76,274.34 L345.55,274.62 L346.30,274.92 L347.04,275.23 L347.75,275.54 L348.44,275.83 L349.10,276.08 L349.74,276.29 L350.36,276.45 L350.96,276.56 L351.55,276.61 L352.13,276.61 L352.72,276.55 L353.33,276.44 L353.96,276.27 L354.61,276.06 L355.30,275.81 L356.01,275.56 L356.75,275.30 L357.52,275.07 L358.33,274.92 L359.16,274.89 L360.04,275.17 L360.16,275.66 L359.60,276.32 L359.01,276.77 L358.38,277.18 L357.72,277.55 L357.02,277.91 L356.30,278.26 L355.55,278.58 L354.77,278.86 L353.97,279.09 L353.14,279.26 L352.30,279.36 L351.45,279.38 L350.61,279.31 L349.77,279.17 L348.96,278.97 L348.16,278.71 L347.40,278.42 L346.65,278.11 L345.93,277.80 L345.23,277.50 L344.55,277.23 L343.90,277.00 L343.27,276.82 L342.67,276.69 L342.08,276.61 L341.49,276.59 L340.91,276.63 L340.31,276.72 L339.69,276.86 L339.05,277.06 L338.39,277.30 L337.70,277.58 L336.99,277.87 L336.25,278.18 L335.49,278.44 L334.69,278.66 L333.88,278.82 L333.05,278.88 L332.23,278.80 L331.43,278.63 L330.67,278.44 L329.92,278.28 L329.18,278.07 L328.45,277.82 L327.73,277.53 L327.01,277.22 L326.30,276.90 L325.58,276.59 Z" fill="#34a04e" stroke="#1d5529" stroke-width="0.55" stroke-linejoin="round"/>
<path d="M362.62,276.21 L363.34,276.51 L364.05,276.80 L364.76,277.05 L365.47,277.26 L366.17,277.41 L366.86,277.50 L367.54,277.51 L368.20,277.36 L368.83,277.09 L369.43,276.78 L370.04,276.48 L370.68,276.19 L371.33,275.87 L372.00,275.54 L372.71,275.22 L373.45,274.90 L374.21,274.59 L374.99,274.32 L375.80,274.09 L376.62,273.92 L377.47,273.83 L378.32,273.82 L379.16,273.88 L380.00,274.03 L380.81,274.23 L381.60,274.49 L382.37,274.78 L383.12,275.09 L383.84,275.41 L384.54,275.70 L385.21,275.97 L385.86,276.20 L386.49,276.39 L387.10,276.52 L387.69,276.59 L388.27,276.62 L388.86,276.58 L389.46,276.49 L390.08,276.35 L390.72,276.15 L391.39,275.91 L392.08,275.65 L392.81,275.38 L393.56,275.12 L394.34,274.90 L395.15,274.77 L395.99,274.76 L396.86,275.08 L396.94,275.58 L396.37,276.22 L395.78,276.64 L395.16,277.03 L394.51,277.38 L393.83,277.74 L393.12,278.09 L392.38,278.42 L391.61,278.71 L390.82,278.97 L390.01,279.18 L389.17,279.32 L388.33,279.38 L387.48,279.36 L386.64,279.26 L385.81,279.09 L385.00,278.86 L384.22,278.59 L383.46,278.29 L382.73,277.98 L382.02,277.67 L381.33,277.38 L380.66,277.13 L380.02,276.91 L379.40,276.75 L378.80,276.65 L378.22,276.59 L377.63,276.60 L377.04,276.66 L376.44,276.77 L375.81,276.94 L375.16,277.16 L374.48,277.41 L373.79,277.70 L373.06,278.00 L372.31,278.27 L371.52,278.51 L370.72,278.70 L369.90,278.79 L369.07,278.75 L368.27,278.62 L367.50,278.48 L366.74,278.35 L366.00,278.18 L365.26,277.95 L364.54,277.68 L363.81,277.38 L363.10,277.07 L362.38,276.76 Z" fill="#4a50b6" stroke="#262c6e" stroke-width="0.55" stroke-linejoin="round"/>
<path d="M287.91,285.62 L288.64,285.93 L289.36,286.24 L290.08,286.54 L290.79,286.81 L291.50,287.04 L292.20,287.22 L292.89,287.31 L293.57,287.25 L294.21,287.06 L294.81,286.82 L295.41,286.59 L296.01,286.35 L296.63,286.06 L297.28,285.76 L297.97,285.45 L298.68,285.12 L299.41,284.79 L300.17,284.47 L300.96,284.19 L301.77,283.96 L302.61,283.80 L303.46,283.72 L304.32,283.72 L305.17,283.82 L306.01,283.99 L306.82,284.23 L307.61,284.52 L308.37,284.83 L309.10,285.16 L309.81,285.47 L310.49,285.77 L311.14,286.02 L311.77,286.23 L312.37,286.39 L312.96,286.48 L313.53,286.52 L314.10,286.49 L314.69,286.41 L315.30,286.27 L315.93,286.08 L316.59,285.83 L317.28,285.56 L318.00,285.29 L318.75,285.01 L319.53,284.78 L320.35,284.64 L321.20,284.63 L322.06,284.96 L322.14,285.45 L321.58,286.08 L320.99,286.51 L320.38,286.90 L319.73,287.26 L319.05,287.62 L318.35,287.98 L317.61,288.33 L316.84,288.63 L316.04,288.90 L315.22,289.10 L314.38,289.24 L313.52,289.28 L312.66,289.24 L311.82,289.11 L310.99,288.91 L310.19,288.65 L309.42,288.35 L308.67,288.03 L307.95,287.71 L307.25,287.40 L306.58,287.12 L305.94,286.88 L305.32,286.70 L304.73,286.57 L304.15,286.50 L303.58,286.49 L303.00,286.54 L302.41,286.65 L301.79,286.82 L301.15,287.04 L300.48,287.30 L299.79,287.60 L299.07,287.92 L298.33,288.23 L297.55,288.50 L296.74,288.71 L295.91,288.85 L295.08,288.87 L294.25,288.73 L293.47,288.51 L292.72,288.26 L291.98,288.04 L291.25,287.78 L290.52,287.48 L289.81,287.15 L289.10,286.81 L288.39,286.48 L287.69,286.18 Z" fill="#34a04e" stroke="#1d5529" stroke-width="0.55" stroke-linejoin="round"/>
<path d="M325.82,285.93 L326.54,286.24 L327.26,286.53 L327.97,286.81 L328.68,287.04 L329.38,287.22 L330.08,287.34 L330.76,287.38 L331.43,287.27 L332.07,287.03 L332.68,286.75 L333.29,286.49 L333.91,286.22 L334.55,285.92 L335.21,285.60 L335.91,285.29 L336.63,284.97 L337.38,284.66 L338.15,284.36 L338.94,284.11 L339.76,283.91 L340.59,283.77 L341.44,283.71 L342.29,283.73 L343.13,283.84 L343.96,284.01 L344.76,284.24 L345.55,284.52 L346.30,284.82 L347.04,285.13 L347.75,285.44 L348.44,285.73 L349.10,285.98 L349.74,286.19 L350.36,286.35 L350.96,286.46 L351.55,286.51 L352.13,286.51 L352.72,286.45 L353.33,286.34 L353.96,286.17 L354.61,285.96 L355.30,285.71 L356.01,285.46 L356.75,285.20 L357.52,284.97 L358.33,284.82 L359.16,284.79 L360.04,285.07 L360.16,285.56 L359.60,286.22 L359.01,286.67 L358.38,287.08 L357.72,287.45 L357.02,287.81 L356.30,288.16 L355.55,288.48 L354.77,288.76 L353.97,288.99 L353.14,289.16 L352.30,289.26 L351.45,289.28 L350.61,289.21 L349.77,289.07 L348.96,288.87 L348.16,288.61 L347.40,288.32 L346.65,288.01 L345.93,287.70 L345.23,287.40 L344.55,287.13 L343.90,286.90 L343.27,286.72 L342.67,286.59 L342.08,286.51 L341.49,286.49 L340.91,286.53 L340.31,286.62 L339.69,286.76 L339.05,286.96 L338.39,287.20 L337.70,287.48 L336.99,287.77 L336.25,288.08 L335.49,288.34 L334.69,288.56 L333.88,288.72 L333.05,288.78 L332.23,288.70 L331.43,288.53 L330.67,288.34 L329.92,288.18 L329.18,287.97 L328.45,287.72 L327.73,287.43 L327.01,287.12 L326.30,286.80 L325.58,286.49 Z" fill="#34a04e" stroke="#1d5529" stroke-width="0.55" stroke-linejoin="round"/>
<path d="M362.62,286.11 L363.34,286.41 L364.05,286.70 L364.76,286.95 L365.47,287.16 L366.17,287.31 L366.86,287.40 L367.54,287.41 L368.20,287.26 L368.83,286.99 L369.43,286.68 L370.04,286.38 L370.68,286.09 L371.33,285.77 L372.00,285.44 L372.71,285.12 L373.45,284.80 L374.21,284.49 L374.99,284.22 L375.80,283.99 L376.62,283.82 L377.47,283.73 L378.32,283.72 L379.16,283.78 L380.00,283.93 L380.81,284.13 L381.60,284.39 L382.37,284.68 L383.12,284.99 L383.84,285.31 L384.54,285.60 L385.21,285.87 L385.86,286.10 L386.49,286.29 L387.10,286.42 L387.69,286.49 L388.27,286.52 L388.86,286.48 L389.46,286.39 L390.08,286.25 L390.72,286.05 L391.39,285.81 L392.08,285.55 L392.81,285.28 L393.56,285.02 L394.34,284.80 L395.15,284.67 L395.99,284.66 L396.86,284.98 L396.94,285.48 L396.37,286.12 L395.78,286.54 L395.16,286.93 L394.51,287.28 L393.83,287.64 L393.12,287.99 L392.38,288.32 L391.61,288.61 L390.82,288.87 L390.01,289.08 L389.17,289.22 L388.33,289.28 L387.48,289.26 L386.64,289.16 L385.81,288.99 L385.00,288.76 L384.22,288.49 L383.46,288.19 L382.73,287.88 L382.02,287.57 L381.33,287.28 L380.66,287.03 L380.02,286.81 L379.40,286.65 L378.80,286.55 L378.22,286.49 L377.63,286.50 L377.04,286.56 L376.44,286.67 L375.81,286.84 L375.16,287.06 L374.48,287.31 L373.79,287.60 L373.06,287.90 L372.31,288.17 L371.52,288.41 L370.72,288.60 L369.90,288.69 L369.07,288.65 L368.27,288.52 L367.50,288.38 L366.74,288.25 L366.00,288.08 L365.26,287.85 L364.54,287.58 L363.81,287.28 L363.10,286.97 L362.38,286.66 Z" fill="#f6c331" stroke="#6e6028" stroke-width="0.55" stroke-linejoin="round"/>
<circle cx="102.00" cy="309.00" r="3.2" fill="#ffc000"/>
<circle cx="138.10" cy="309.00" r="3.2" fill="#70ad47"/>
<circle cx="178.50" cy="309.00" r="3.2" fill="#4472c4"/>
<text x="110.1" y="312.8" font-size="13" font-weight="normal" fill="#1c1c1c" stroke="#1c1c1c" stroke-width="0.3" text-anchor="start" textLength="19.6" lengthAdjust="spacingAndGlyphs"><tspan>Rol</tspan></text>
<text x="146.8" y="312.8" font-size="13" font-weight="normal" fill="#1c1c1c" stroke="#1c1c1c" stroke-width="0.3" text-anchor="start" textLength="23.5" lengthAdjust="spacingAndGlyphs"><tspan>Unc</tspan></text>
<text x="183.9" y="312.8" font-size="13" font-weight="normal" fill="#1c1c1c" stroke="#1c1c1c" stroke-width="0.3" text-anchor="start" textLength="121.3" lengthAdjust="spacingAndGlyphs"><tspan>Dpy Unc or Rol Unc</tspan></text>
<text x="8.7" y="331.8" font-size="14" font-weight="normal" fill="#1c1c1c" stroke="#1c1c1c" stroke-width="0.3" text-anchor="start" textLength="385.4" lengthAdjust="spacingAndGlyphs"><tspan>Expected phenotypes of F1 progeny with high PAM specificity</tspan></text>
<text x="545.2" y="11.9" font-size="13.8" font-weight="normal" fill="#1c1c1c" stroke="#1c1c1c" stroke-width="0.3" text-anchor="start" textLength="153.7" lengthAdjust="spacingAndGlyphs"><tspan>N = # of injected animals</tspan></text>
<text x="462.1" y="35.6" font-size="13.4" font-weight="normal" fill="#70ad47" stroke="#70ad47" stroke-width="0.1" text-anchor="start" textLength="151.8" lengthAdjust="spacingAndGlyphs"><tspan font-style="italic">unc-58</tspan><tspan> NGG PAM sgRNA</tspan></text>
<text x="462.1" y="53.9" font-size="13.4" font-weight="normal" fill="#ffc000" stroke="#ffc000" stroke-width="0.1" text-anchor="start" textLength="151.0" lengthAdjust="spacingAndGlyphs"><tspan font-style="italic">dpy-10</tspan><tspan> NGA PAM sgRNA</tspan></text>
<text x="631.6" y="35.6" font-size="13.4" font-weight="normal" fill="#70ad47" stroke="#70ad47" stroke-width="0.1" text-anchor="start" textLength="152.5" lengthAdjust="spacingAndGlyphs"><tspan font-style="italic">unc-58</tspan><tspan> NGG PAM sgRNA</tspan></text>
<text x="631.6" y="53.9" font-size="13.4" font-weight="normal" fill="#ffc000" stroke="#ffc000" stroke-width="0.1" text-anchor="start" textLength="160.7" lengthAdjust="spacingAndGlyphs"><tspan font-style="italic">dpy-10</tspan><tspan> NGCG PAM sgRNA</tspan></text>
<text transform="translate(429.10,78.48) scale(0.1966,0.2044)" font-size="100" font-weight="bold" fill="#000" stroke="#000" stroke-width="2.194" stroke-linejoin="round">D</text>
<text transform="translate(429.16,163.48) scale(0.1882,0.2044)" font-size="100" font-weight="bold" fill="#000" stroke="#000" stroke-width="2.242" stroke-linejoin="round">E</text>
<text transform="translate(429.06,248.48) scale(0.1884,0.2044)" font-size="100" font-weight="bold" fill="#000" stroke="#000" stroke-width="2.240" stroke-linejoin="round">F</text>
<text x="452.6" y="70.8" font-size="8.8" font-weight="normal" fill="#1c1c1c" stroke="#1c1c1c" stroke-width="0.22" text-anchor="start" textLength="21.0" lengthAdjust="spacingAndGlyphs"><tspan>N=16</tspan></text>
<text x="481.7" y="74.4" font-size="10.5" font-weight="normal" fill="#1c1c1c" stroke="#1c1c1c" stroke-width="0.22" text-anchor="start" textLength="110.8" lengthAdjust="spacingAndGlyphs"><tspan>WT Cas9 + VQR variant</tspan></text>
<text x="456.3" y="81.0" font-size="6.6" font-weight="normal" fill="#1c1c1c" stroke="#1c1c1c" stroke-width="0.06" text-anchor="middle"><tspan>0</tspan></text>
<text x="513.4" y="81.0" font-size="6.6" font-weight="normal" fill="#1c1c1c" stroke="#1c1c1c" stroke-width="0.06" text-anchor="middle"><tspan>5</tspan></text>
<text x="570.5" y="81.0" font-size="6.6" font-weight="normal" fill="#1c1c1c" stroke="#1c1c1c" stroke-width="0.06" text-anchor="middle"><tspan>10</tspan></text>
<text x="616.0" y="81.0" font-size="6.6" font-weight="normal" fill="#1c1c1c" stroke="#1c1c1c" stroke-width="0.06" text-anchor="middle"><tspan>&gt;10</tspan></text>
<line x1="456.30" y1="89.20" x2="618.00" y2="89.20" stroke="#d9d9d9" stroke-width="0.9"/>
<circle cx="456.30" cy="100.40" r="2.35" fill="#70ad47"/>
<circle cx="456.30" cy="105.60" r="2.35" fill="#70ad47"/>
<circle cx="456.30" cy="111.30" r="2.35" fill="#70ad47"/>
<circle cx="456.30" cy="114.00" r="2.35" fill="#70ad47"/>
<circle cx="456.30" cy="116.60" r="2.35" fill="#70ad47"/>
<circle cx="456.30" cy="136.40" r="2.35" fill="#70ad47"/>
<circle cx="456.30" cy="138.90" r="2.35" fill="#70ad47"/>
<circle cx="467.72" cy="122.30" r="2.35" fill="#70ad47"/>
<circle cx="467.72" cy="125.30" r="2.35" fill="#70ad47"/>
<circle cx="467.72" cy="133.50" r="2.35" fill="#70ad47"/>
<circle cx="467.72" cy="137.00" r="2.35" fill="#4472c4"/>
<circle cx="467.72" cy="139.20" r="2.35" fill="#4472c4"/>
<circle cx="479.14" cy="116.00" r="2.35" fill="#ffc000"/>
<circle cx="479.14" cy="120.10" r="2.35" fill="#4472c4"/>
<circle cx="479.14" cy="128.30" r="2.35" fill="#70ad47"/>
<circle cx="479.14" cy="142.20" r="2.35" fill="#70ad47"/>
<circle cx="490.56" cy="103.50" r="2.35" fill="#4472c4"/>
<circle cx="490.56" cy="105.50" r="2.35" fill="#4472c4"/>
<circle cx="490.56" cy="111.50" r="2.35" fill="#4472c4"/>
<circle cx="490.56" cy="113.50" r="2.35" fill="#4472c4"/>
<circle cx="490.56" cy="120.10" r="2.35" fill="#70ad47"/>
<circle cx="490.56" cy="130.60" r="2.35" fill="#4472c4"/>
<circle cx="501.98" cy="102.50" r="2.35" fill="#ffc000"/>
<circle cx="501.98" cy="104.50" r="2.35" fill="#ffc000"/>
<circle cx="501.98" cy="108.20" r="2.35" fill="#70ad47"/>
<circle cx="501.98" cy="116.90" r="2.35" fill="#4472c4"/>
<circle cx="513.40" cy="114.10" r="2.35" fill="#ffc000"/>
<circle cx="513.40" cy="130.60" r="2.35" fill="#70ad47"/>
<circle cx="524.82" cy="108.60" r="2.35" fill="#4472c4"/>
<circle cx="524.82" cy="136.80" r="2.35" fill="#ffc000"/>
<circle cx="524.82" cy="133.50" r="2.35" fill="#4472c4"/>
<circle cx="536.24" cy="125.20" r="2.35" fill="#ffc000"/>
<circle cx="536.24" cy="122.00" r="2.35" fill="#4472c4"/>
<circle cx="547.66" cy="128.00" r="2.35" fill="#4472c4"/>
<circle cx="547.66" cy="142.10" r="2.35" fill="#ffc000"/>
<circle cx="559.08" cy="125.20" r="2.35" fill="#4472c4"/>
<circle cx="559.08" cy="130.80" r="2.35" fill="#ffc000"/>
<circle cx="616.40" cy="102.70" r="2.35" fill="#70ad47"/>
<circle cx="616.40" cy="108.50" r="2.35" fill="#ffc000"/>
<circle cx="616.40" cy="111.50" r="2.35" fill="#ffc000"/>
<circle cx="616.40" cy="120.00" r="2.35" fill="#ffc000"/>
<circle cx="616.40" cy="122.30" r="2.35" fill="#ffc000"/>
<circle cx="616.40" cy="128.30" r="2.35" fill="#ffc000"/>
<circle cx="616.40" cy="133.30" r="2.35" fill="#ffc000"/>
<circle cx="616.40" cy="138.50" r="2.35" fill="#ffc000"/>
<circle cx="616.40" cy="142.20" r="2.35" fill="#4472c4"/>
<text x="624.6" y="70.8" font-size="8.8" font-weight="normal" fill="#1c1c1c" stroke="#1c1c1c" stroke-width="0.22" text-anchor="start" textLength="21.0" lengthAdjust="spacingAndGlyphs"><tspan>N=11</tspan></text>
<text x="652.8" y="74.4" font-size="10.5" font-weight="normal" fill="#1c1c1c" stroke="#1c1c1c" stroke-width="0.22" text-anchor="start" textLength="116.3" lengthAdjust="spacingAndGlyphs"><tspan>WT Cas9 + VRER variant</tspan></text>
<text x="630.2" y="81.0" font-size="6.6" font-weight="normal" fill="#1c1c1c" stroke="#1c1c1c" stroke-width="0.06" text-anchor="middle"><tspan>0</tspan></text>
<text x="687.4" y="81.0" font-size="6.6" font-weight="normal" fill="#1c1c1c" stroke="#1c1c1c" stroke-width="0.06" text-anchor="middle"><tspan>5</tspan></text>
<text x="744.5" y="81.0" font-size="6.6" font-weight="normal" fill="#1c1c1c" stroke="#1c1c1c" stroke-width="0.06" text-anchor="middle"><tspan>10</tspan></text>
<text x="789.4" y="81.0" font-size="6.6" font-weight="normal" fill="#1c1c1c" stroke="#1c1c1c" stroke-width="0.06" text-anchor="middle"><tspan>&gt;10</tspan></text>
<line x1="630.20" y1="89.20" x2="790.00" y2="89.20" stroke="#d9d9d9" stroke-width="0.9"/>
<circle cx="630.20" cy="105.00" r="2.35" fill="#ffc000"/>
<circle cx="630.20" cy="107.14" r="2.35" fill="#ffc000"/>
<circle cx="630.20" cy="109.28" r="2.35" fill="#ffc000"/>
<circle cx="630.20" cy="111.42" r="2.35" fill="#ffc000"/>
<circle cx="630.20" cy="113.56" r="2.35" fill="#ffc000"/>
<circle cx="630.20" cy="115.70" r="2.35" fill="#ffc000"/>
<circle cx="630.20" cy="123.90" r="2.35" fill="#4472c4"/>
<circle cx="630.20" cy="128.30" r="2.35" fill="#ffc000"/>
<circle cx="630.20" cy="130.80" r="2.35" fill="#ffc000"/>
<circle cx="630.20" cy="133.30" r="2.35" fill="#ffc000"/>
<circle cx="630.20" cy="135.80" r="2.35" fill="#ffc000"/>
<circle cx="630.20" cy="138.30" r="2.35" fill="#ffc000"/>
<circle cx="630.20" cy="140.80" r="2.35" fill="#ffc000"/>
<circle cx="630.20" cy="143.30" r="2.35" fill="#ffc000"/>
<circle cx="641.60" cy="104.00" r="2.35" fill="#4472c4"/>
<circle cx="641.60" cy="107.50" r="2.35" fill="#4472c4"/>
<circle cx="641.60" cy="115.80" r="2.35" fill="#70ad47"/>
<circle cx="653.00" cy="123.90" r="2.35" fill="#ffc000"/>
<circle cx="653.00" cy="120.10" r="2.35" fill="#4472c4"/>
<circle cx="653.00" cy="131.80" r="2.35" fill="#4472c4"/>
<circle cx="664.40" cy="120.10" r="2.35" fill="#ffc000"/>
<circle cx="664.40" cy="139.40" r="2.35" fill="#4472c4"/>
<circle cx="664.40" cy="143.20" r="2.35" fill="#4472c4"/>
<circle cx="789.40" cy="104.40" r="2.35" fill="#70ad47"/>
<circle cx="789.40" cy="120.10" r="2.35" fill="#70ad47"/>
<circle cx="789.40" cy="123.40" r="2.35" fill="#70ad47"/>
<circle cx="789.40" cy="131.80" r="2.35" fill="#70ad47"/>
<circle cx="789.40" cy="139.10" r="2.35" fill="#70ad47"/>
<circle cx="789.40" cy="142.90" r="2.35" fill="#70ad47"/>
<text x="452.9" y="155.7" font-size="8.8" font-weight="normal" fill="#1c1c1c" stroke="#1c1c1c" stroke-width="0.22" text-anchor="start" textLength="21.0" lengthAdjust="spacingAndGlyphs"><tspan>N=13</tspan></text>
<text x="509.4" y="158.6" font-size="10.5" font-weight="normal" fill="#1c1c1c" stroke="#1c1c1c" stroke-width="0.22" text-anchor="start" textLength="57.6" lengthAdjust="spacingAndGlyphs"><tspan>VQR variant</tspan></text>
<text x="457.4" y="165.8" font-size="6.6" font-weight="normal" fill="#1c1c1c" stroke="#1c1c1c" stroke-width="0.06" text-anchor="middle"><tspan>0</tspan></text>
<text x="514.2" y="165.8" font-size="6.6" font-weight="normal" fill="#1c1c1c" stroke="#1c1c1c" stroke-width="0.06" text-anchor="middle"><tspan>5</tspan></text>
<text x="571.0" y="165.8" font-size="6.6" font-weight="normal" fill="#1c1c1c" stroke="#1c1c1c" stroke-width="0.06" text-anchor="middle"><tspan>10</tspan></text>
<text x="614.6" y="165.8" font-size="6.6" font-weight="normal" fill="#1c1c1c" stroke="#1c1c1c" stroke-width="0.06" text-anchor="middle"><tspan>&gt;10</tspan></text>
<line x1="457.40" y1="173.50" x2="618.00" y2="173.50" stroke="#d9d9d9" stroke-width="0.9"/>
<circle cx="457.50" cy="180.40" r="2.35" fill="#ffc000"/>
<circle cx="457.50" cy="183.50" r="2.35" fill="#ffc000"/>
<circle cx="457.50" cy="188.90" r="2.35" fill="#4472c4"/>
<circle cx="457.50" cy="191.00" r="2.35" fill="#4472c4"/>
<circle cx="457.50" cy="193.10" r="2.35" fill="#4472c4"/>
<circle cx="457.50" cy="195.60" r="2.35" fill="#4472c4"/>
<circle cx="457.50" cy="199.00" r="2.35" fill="#70ad47"/>
<circle cx="457.50" cy="203.20" r="2.35" fill="#4472c4"/>
<circle cx="457.50" cy="205.80" r="2.35" fill="#ffc000"/>
<circle cx="457.50" cy="208.30" r="2.35" fill="#ffc000"/>
<circle cx="457.50" cy="210.80" r="2.35" fill="#ffc000"/>
<circle cx="457.50" cy="214.20" r="2.35" fill="#4472c4"/>
<circle cx="457.50" cy="216.70" r="2.35" fill="#ffc000"/>
<circle cx="457.50" cy="219.30" r="2.35" fill="#ffc000"/>
<circle cx="457.50" cy="221.80" r="2.35" fill="#ffc000"/>
<circle cx="457.50" cy="226.00" r="2.35" fill="#4472c4"/>
<circle cx="468.90" cy="200.00" r="2.35" fill="#4472c4"/>
<circle cx="468.90" cy="215.00" r="2.35" fill="#ffc000"/>
<circle cx="468.90" cy="226.30" r="2.35" fill="#70ad47"/>
<circle cx="491.70" cy="188.70" r="2.35" fill="#ffc000"/>
<circle cx="514.50" cy="203.40" r="2.35" fill="#ffc000"/>
<circle cx="525.90" cy="199.80" r="2.35" fill="#ffc000"/>
<circle cx="616.40" cy="192.50" r="2.35" fill="#ffc000"/>
<circle cx="616.40" cy="195.80" r="2.35" fill="#ffc000"/>
<circle cx="616.40" cy="226.20" r="2.35" fill="#ffc000"/>
<text x="624.2" y="155.0" font-size="8.8" font-weight="normal" fill="#1c1c1c" stroke="#1c1c1c" stroke-width="0.22" text-anchor="start" textLength="21.0" lengthAdjust="spacingAndGlyphs"><tspan>N=16</tspan></text>
<text x="678.6" y="157.5" font-size="10.5" font-weight="normal" fill="#1c1c1c" stroke="#1c1c1c" stroke-width="0.22" text-anchor="start" textLength="62.2" lengthAdjust="spacingAndGlyphs"><tspan>VRER variant</tspan></text>
<text x="630.7" y="165.6" font-size="6.6" font-weight="normal" fill="#1c1c1c" stroke="#1c1c1c" stroke-width="0.06" text-anchor="middle"><tspan>0</tspan></text>
<text x="687.2" y="165.6" font-size="6.6" font-weight="normal" fill="#1c1c1c" stroke="#1c1c1c" stroke-width="0.06" text-anchor="middle"><tspan>5</tspan></text>
<text x="743.7" y="165.6" font-size="6.6" font-weight="normal" fill="#1c1c1c" stroke="#1c1c1c" stroke-width="0.06" text-anchor="middle"><tspan>10</tspan></text>
<text x="787.4" y="165.6" font-size="6.6" font-weight="normal" fill="#1c1c1c" stroke="#1c1c1c" stroke-width="0.06" text-anchor="middle"><tspan>&gt;10</tspan></text>
<line x1="630.70" y1="173.70" x2="790.00" y2="173.70" stroke="#d9d9d9" stroke-width="0.9"/>
<circle cx="630.40" cy="184.60" r="2.35" fill="#ffc000"/>
<circle cx="630.40" cy="187.10" r="2.35" fill="#ffc000"/>
<circle cx="630.40" cy="189.60" r="2.35" fill="#ffc000"/>
<circle cx="630.40" cy="191.30" r="2.35" fill="#4472c4"/>
<circle cx="630.40" cy="192.10" r="2.35" fill="#ffc000"/>
<circle cx="630.40" cy="194.60" r="2.35" fill="#ffc000"/>
<circle cx="630.40" cy="197.10" r="2.35" fill="#ffc000"/>
<circle cx="630.40" cy="199.60" r="2.35" fill="#ffc000"/>
<circle cx="630.40" cy="202.10" r="2.35" fill="#ffc000"/>
<circle cx="630.40" cy="204.60" r="2.35" fill="#ffc000"/>
<circle cx="630.40" cy="207.10" r="2.35" fill="#ffc000"/>
<circle cx="630.40" cy="209.60" r="2.35" fill="#ffc000"/>
<circle cx="630.40" cy="212.10" r="2.35" fill="#ffc000"/>
<circle cx="630.40" cy="214.60" r="2.35" fill="#ffc000"/>
<circle cx="630.40" cy="215.40" r="2.35" fill="#4472c4"/>
<circle cx="630.40" cy="217.10" r="2.35" fill="#ffc000"/>
<circle cx="630.40" cy="219.60" r="2.35" fill="#ffc000"/>
<circle cx="630.40" cy="222.10" r="2.35" fill="#ffc000"/>
<circle cx="630.40" cy="224.60" r="2.35" fill="#ffc000"/>
<circle cx="630.40" cy="227.20" r="2.35" fill="#4472c4"/>
<circle cx="641.75" cy="189.80" r="2.35" fill="#ffc000"/>
<circle cx="641.75" cy="193.00" r="2.35" fill="#4472c4"/>
<circle cx="641.75" cy="201.20" r="2.35" fill="#70ad47"/>
<circle cx="641.75" cy="212.30" r="2.35" fill="#4472c4"/>
<circle cx="641.75" cy="215.20" r="2.35" fill="#ffc000"/>
<circle cx="641.75" cy="226.80" r="2.35" fill="#70ad47"/>
<circle cx="653.10" cy="192.70" r="2.35" fill="#ffc000"/>
<circle cx="653.10" cy="226.40" r="2.35" fill="#ffc000"/>
<text x="452.1" y="240.0" font-size="8.8" font-weight="normal" fill="#1c1c1c" stroke="#1c1c1c" stroke-width="0.22" text-anchor="start" textLength="21.0" lengthAdjust="spacingAndGlyphs"><tspan>N=17</tspan></text>
<text x="516.6" y="242.7" font-size="10.5" font-weight="normal" fill="#1c1c1c" stroke="#1c1c1c" stroke-width="0.22" text-anchor="start" textLength="41.4" lengthAdjust="spacingAndGlyphs"><tspan>WT Cas9</tspan></text>
<text x="456.4" y="247.6" font-size="6.6" font-weight="normal" fill="#1c1c1c" stroke="#1c1c1c" stroke-width="0.06" text-anchor="middle"><tspan>0</tspan></text>
<text x="513.5" y="247.6" font-size="6.6" font-weight="normal" fill="#1c1c1c" stroke="#1c1c1c" stroke-width="0.06" text-anchor="middle"><tspan>5</tspan></text>
<text x="570.6" y="247.6" font-size="6.6" font-weight="normal" fill="#1c1c1c" stroke="#1c1c1c" stroke-width="0.06" text-anchor="middle"><tspan>10</tspan></text>
<text x="615.7" y="247.6" font-size="6.6" font-weight="normal" fill="#1c1c1c" stroke="#1c1c1c" stroke-width="0.06" text-anchor="middle"><tspan>&gt;10</tspan></text>
<line x1="456.40" y1="255.60" x2="618.00" y2="255.60" stroke="#d9d9d9" stroke-width="0.9"/>
<circle cx="456.50" cy="267.50" r="2.35" fill="#ffc000"/>
<circle cx="456.50" cy="269.95" r="2.35" fill="#ffc000"/>
<circle cx="456.50" cy="272.40" r="2.35" fill="#ffc000"/>
<circle cx="456.50" cy="271.20" r="2.35" fill="#4472c4"/>
<circle cx="456.50" cy="274.85" r="2.35" fill="#ffc000"/>
<circle cx="456.50" cy="277.30" r="2.35" fill="#ffc000"/>
<circle cx="456.50" cy="279.75" r="2.35" fill="#ffc000"/>
<circle cx="456.50" cy="282.20" r="2.35" fill="#ffc000"/>
<circle cx="456.50" cy="284.65" r="2.35" fill="#ffc000"/>
<circle cx="456.50" cy="285.60" r="2.35" fill="#4472c4"/>
<circle cx="456.50" cy="287.10" r="2.35" fill="#ffc000"/>
<circle cx="456.50" cy="289.55" r="2.35" fill="#ffc000"/>
<circle cx="456.50" cy="292.00" r="2.35" fill="#ffc000"/>
<circle cx="456.50" cy="294.00" r="2.35" fill="#4472c4"/>
<circle cx="456.50" cy="294.45" r="2.35" fill="#ffc000"/>
<circle cx="456.50" cy="296.90" r="2.35" fill="#ffc000"/>
<circle cx="456.50" cy="298.60" r="2.35" fill="#4472c4"/>
<circle cx="456.50" cy="299.35" r="2.35" fill="#ffc000"/>
<circle cx="456.50" cy="301.80" r="2.35" fill="#ffc000"/>
<circle cx="456.50" cy="304.25" r="2.35" fill="#ffc000"/>
<circle cx="456.50" cy="306.70" r="2.35" fill="#ffc000"/>
<circle cx="456.50" cy="308.90" r="2.35" fill="#70ad47"/>
<circle cx="456.50" cy="309.15" r="2.35" fill="#ffc000"/>
<circle cx="456.50" cy="311.60" r="2.35" fill="#ffc000"/>
<circle cx="467.90" cy="264.10" r="2.35" fill="#ffc000"/>
<circle cx="467.90" cy="270.30" r="2.35" fill="#ffc000"/>
<circle cx="467.90" cy="282.00" r="2.35" fill="#4472c4"/>
<circle cx="467.90" cy="288.50" r="2.35" fill="#70ad47"/>
<circle cx="479.30" cy="264.20" r="2.35" fill="#4472c4"/>
<circle cx="479.30" cy="273.30" r="2.35" fill="#70ad47"/>
<circle cx="479.30" cy="290.70" r="2.35" fill="#4472c4"/>
<circle cx="479.30" cy="293.60" r="2.35" fill="#ffc000"/>
<circle cx="479.30" cy="296.00" r="2.35" fill="#ffc000"/>
<circle cx="479.30" cy="298.50" r="2.35" fill="#ffc000"/>
<circle cx="479.30" cy="301.00" r="2.35" fill="#ffc000"/>
<circle cx="479.30" cy="309.00" r="2.35" fill="#ffc000"/>
<circle cx="490.70" cy="267.50" r="2.35" fill="#4472c4"/>
<circle cx="490.70" cy="285.20" r="2.35" fill="#ffc000"/>
<circle cx="490.70" cy="294.00" r="2.35" fill="#70ad47"/>
<circle cx="490.70" cy="299.90" r="2.35" fill="#70ad47"/>
<circle cx="502.10" cy="305.90" r="2.35" fill="#4472c4"/>
<circle cx="559.10" cy="291.20" r="2.35" fill="#70ad47"/>
<circle cx="570.50" cy="279.20" r="2.35" fill="#70ad47"/>
<circle cx="616.30" cy="267.40" r="2.35" fill="#70ad47"/>
<circle cx="616.30" cy="282.50" r="2.35" fill="#70ad47"/>
<circle cx="616.30" cy="297.10" r="2.35" fill="#70ad47"/>
<circle cx="616.30" cy="305.90" r="2.35" fill="#70ad47"/>
<text x="623.9" y="240.5" font-size="8.8" font-weight="normal" fill="#1c1c1c" stroke="#1c1c1c" stroke-width="0.22" text-anchor="start" textLength="21.0" lengthAdjust="spacingAndGlyphs"><tspan>N=15</tspan></text>
<text x="688.9" y="243.0" font-size="10.5" font-weight="normal" fill="#1c1c1c" stroke="#1c1c1c" stroke-width="0.22" text-anchor="start" textLength="41.5" lengthAdjust="spacingAndGlyphs"><tspan>WT Cas9</tspan></text>
<text x="627.9" y="247.6" font-size="6.6" font-weight="normal" fill="#1c1c1c" stroke="#1c1c1c" stroke-width="0.06" text-anchor="middle"><tspan>0</tspan></text>
<text x="685.5" y="247.6" font-size="6.6" font-weight="normal" fill="#1c1c1c" stroke="#1c1c1c" stroke-width="0.06" text-anchor="middle"><tspan>5</tspan></text>
<text x="743.2" y="247.6" font-size="6.6" font-weight="normal" fill="#1c1c1c" stroke="#1c1c1c" stroke-width="0.06" text-anchor="middle"><tspan>10</tspan></text>
<text x="786.6" y="247.6" font-size="6.6" font-weight="normal" fill="#1c1c1c" stroke="#1c1c1c" stroke-width="0.06" text-anchor="middle"><tspan>&gt;10</tspan></text>
<line x1="627.90" y1="255.20" x2="790.00" y2="255.20" stroke="#d9d9d9" stroke-width="0.9"/>
<circle cx="627.90" cy="270.10" r="2.35" fill="#ffc000"/>
<circle cx="627.90" cy="272.35" r="2.35" fill="#ffc000"/>
<circle cx="627.90" cy="274.60" r="2.35" fill="#ffc000"/>
<circle cx="627.90" cy="276.85" r="2.35" fill="#ffc000"/>
<circle cx="627.90" cy="279.10" r="2.35" fill="#ffc000"/>
<circle cx="627.90" cy="281.35" r="2.35" fill="#ffc000"/>
<circle cx="627.90" cy="283.60" r="2.35" fill="#ffc000"/>
<circle cx="627.90" cy="285.85" r="2.35" fill="#ffc000"/>
<circle cx="627.90" cy="288.10" r="2.35" fill="#ffc000"/>
<circle cx="627.90" cy="290.35" r="2.35" fill="#ffc000"/>
<circle cx="627.90" cy="292.60" r="2.35" fill="#ffc000"/>
<circle cx="627.90" cy="294.85" r="2.35" fill="#ffc000"/>
<circle cx="627.90" cy="297.10" r="2.35" fill="#ffc000"/>
<circle cx="627.90" cy="299.35" r="2.35" fill="#ffc000"/>
<circle cx="627.90" cy="301.60" r="2.35" fill="#ffc000"/>
<circle cx="627.90" cy="303.85" r="2.35" fill="#ffc000"/>
<circle cx="627.90" cy="306.10" r="2.35" fill="#ffc000"/>
<circle cx="627.90" cy="308.35" r="2.35" fill="#ffc000"/>
<circle cx="639.40" cy="277.70" r="2.35" fill="#70ad47"/>
<circle cx="639.40" cy="280.60" r="2.35" fill="#4472c4"/>
<circle cx="639.40" cy="285.50" r="2.35" fill="#4472c4"/>
<circle cx="639.40" cy="288.50" r="2.35" fill="#4472c4"/>
<circle cx="650.90" cy="275.00" r="2.35" fill="#70ad47"/>
<circle cx="650.90" cy="283.30" r="2.35" fill="#70ad47"/>
<circle cx="650.90" cy="297.20" r="2.35" fill="#4472c4"/>
<circle cx="673.90" cy="291.90" r="2.35" fill="#70ad47"/>
<circle cx="673.90" cy="308.70" r="2.35" fill="#70ad47"/>
<circle cx="696.90" cy="303.10" r="2.35" fill="#70ad47"/>
<circle cx="789.20" cy="269.10" r="2.35" fill="#70ad47"/>
<circle cx="789.20" cy="280.60" r="2.35" fill="#70ad47"/>
<circle cx="789.20" cy="285.20" r="2.35" fill="#70ad47"/>
<circle cx="789.20" cy="287.90" r="2.35" fill="#70ad47"/>
<circle cx="789.20" cy="294.00" r="2.35" fill="#70ad47"/>
<circle cx="789.20" cy="296.70" r="2.35" fill="#70ad47"/>
<circle cx="789.20" cy="305.80" r="2.35" fill="#70ad47"/>
<line x1="451.30" y1="19.30" x2="795.00" y2="19.30" stroke="#3d3d3d" stroke-width="1.3"/>
<line x1="451.30" y1="62.70" x2="795.00" y2="62.70" stroke="#666" stroke-width="1.4"/>
<line x1="451.30" y1="18.70" x2="451.30" y2="317.60" stroke="#3d3d3d" stroke-width="1.4"/>
<line x1="623.30" y1="18.70" x2="623.30" y2="317.60" stroke="#3d3d3d" stroke-width="1.4"/>
<line x1="795.00" y1="18.70" x2="795.00" y2="317.60" stroke="#3d3d3d" stroke-width="1.3"/>
<line x1="450.60" y1="147.20" x2="795.20" y2="148.00" stroke="#000" stroke-width="2.2"/>
<line x1="450.60" y1="231.30" x2="795.20" y2="232.00" stroke="#000" stroke-width="2.3"/>
<line x1="451.30" y1="317.10" x2="795.00" y2="317.10" stroke="#3d3d3d" stroke-width="1.4"/>
<circle cx="515.30" cy="327.60" r="3.3" fill="#ffc000"/>
<circle cx="551.20" cy="327.60" r="3.3" fill="#70ad47"/>
<circle cx="593.10" cy="327.60" r="3.3" fill="#4472c4"/>
<text x="524.1" y="331.9" font-size="13.5" font-weight="normal" fill="#1c1c1c" stroke="#1c1c1c" stroke-width="0.3" text-anchor="start" textLength="18.1" lengthAdjust="spacingAndGlyphs"><tspan>Rol</tspan></text>
<text x="560.0" y="331.9" font-size="13.5" font-weight="normal" fill="#1c1c1c" stroke="#1c1c1c" stroke-width="0.3" text-anchor="start" textLength="23.6" lengthAdjust="spacingAndGlyphs"><tspan>Unc</tspan></text>
<text x="596.9" y="331.9" font-size="13.5" font-weight="normal" fill="#1c1c1c" stroke="#1c1c1c" stroke-width="0.3" text-anchor="start" textLength="121.7" lengthAdjust="spacingAndGlyphs"><tspan>Dpy Unc or Rol Unc</tspan></text>
<text x="436.3" y="350.4" font-size="14" font-weight="normal" fill="#1c1c1c" stroke="#1c1c1c" stroke-width="0.3" text-anchor="start" textLength="359.0" lengthAdjust="spacingAndGlyphs"><tspan># of animals among the F1 progeny of one injected worm</tspan></text>
</svg></body></html>
